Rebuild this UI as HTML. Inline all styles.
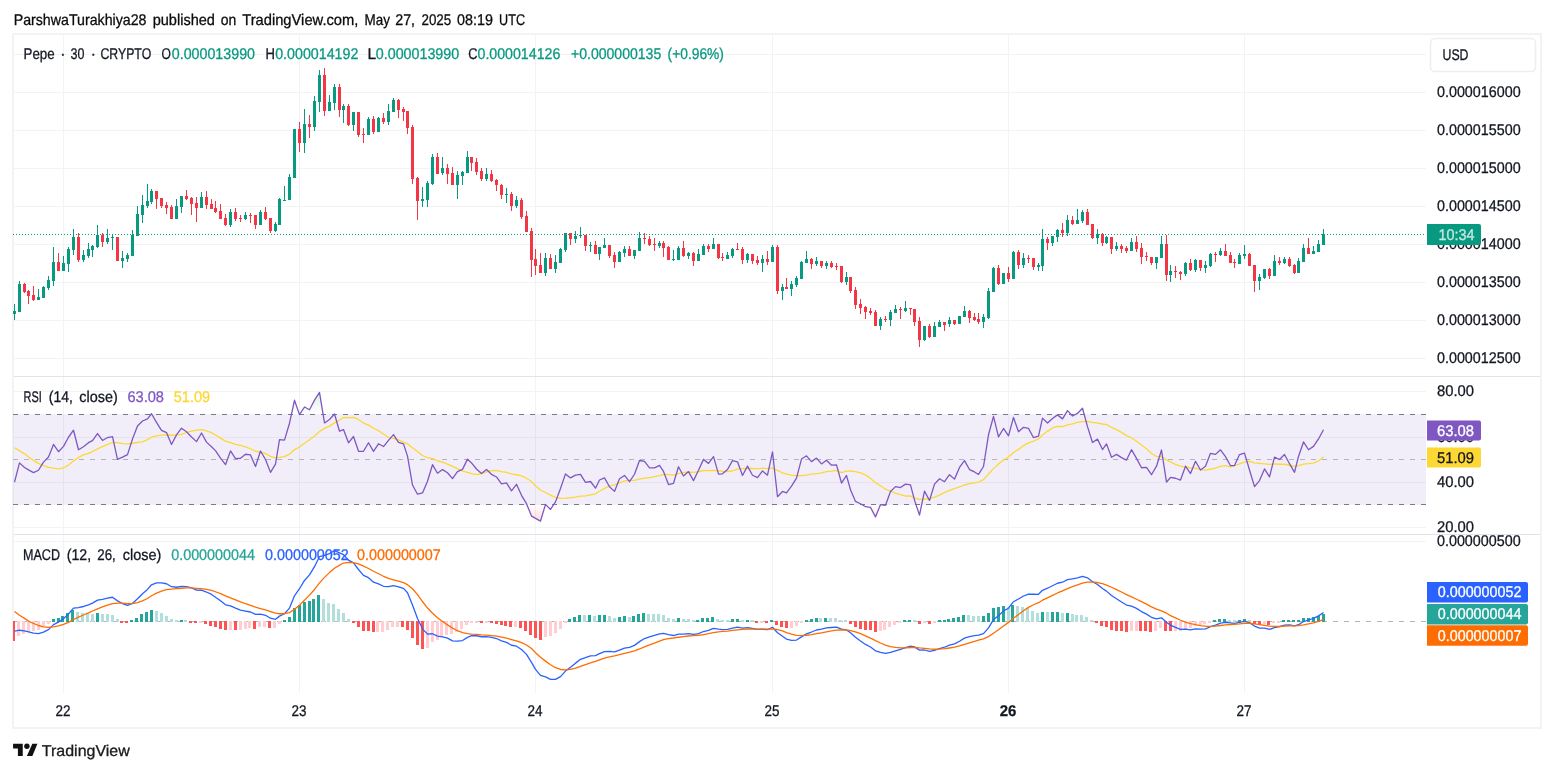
<!DOCTYPE html>
<html><head><meta charset="utf-8"><title>Pepe chart</title><style>html,body{margin:0;padding:0;background:#fff}body{width:1554px;height:772px;overflow:hidden;font-family:"Liberation Sans",sans-serif}svg{display:block}</style></head><body>
<svg width="1554" height="772" viewBox="0 0 1554 772" font-family="Liberation Sans, sans-serif" shape-rendering="crispEdges">
<rect width="1554" height="772" fill="#fff"/>
<rect x="63" y="35" width="1" height="658" fill="#f2f3f4"/>
<rect x="299" y="35" width="1" height="658" fill="#f2f3f4"/>
<rect x="535" y="35" width="1" height="658" fill="#f2f3f4"/>
<rect x="772" y="35" width="1" height="658" fill="#f2f3f4"/>
<rect x="1008" y="35" width="1" height="658" fill="#f2f3f4"/>
<rect x="1244" y="35" width="1" height="658" fill="#f2f3f4"/>
<rect x="13" y="53.90" width="1413" height="1" fill="#f2f3f4"/>
<rect x="13" y="91.91" width="1413" height="1" fill="#f2f3f4"/>
<rect x="13" y="129.92" width="1413" height="1" fill="#f2f3f4"/>
<rect x="13" y="167.93" width="1413" height="1" fill="#f2f3f4"/>
<rect x="13" y="205.94" width="1413" height="1" fill="#f2f3f4"/>
<rect x="13" y="243.95" width="1413" height="1" fill="#f2f3f4"/>
<rect x="13" y="281.96" width="1413" height="1" fill="#f2f3f4"/>
<rect x="13" y="319.97" width="1413" height="1" fill="#f2f3f4"/>
<rect x="13" y="357.98" width="1413" height="1" fill="#f2f3f4"/>
<rect x="13" y="391.00" width="1413" height="1" fill="#f2f3f4"/>
<rect x="13" y="437.00" width="1413" height="1" fill="#f2f3f4"/>
<rect x="13" y="482.00" width="1413" height="1" fill="#f2f3f4"/>
<rect x="13" y="527.00" width="1413" height="1" fill="#f2f3f4"/>
<rect x="13" y="541.00" width="1413" height="1" fill="#f2f3f4"/>
<rect x="13" y="34" width="1528" height="694" fill="none" stroke="#f3f3f3" stroke-width="2"/>
<rect x="14" y="376.00" width="1526" height="1" fill="#e0e3eb"/>
<rect x="14" y="534.00" width="1526" height="1" fill="#e0e3eb"/>
<rect x="13" y="414" width="1413" height="91" fill="#7e57c2" fill-opacity="0.1"/>
<line x1="13" y1="414.50" x2="1426" y2="414.50" stroke="#787b86" stroke-width="1" stroke-dasharray="5 6"/>
<line x1="13" y1="504.50" x2="1426" y2="504.50" stroke="#787b86" stroke-width="1" stroke-dasharray="5 6"/>
<line x1="13" y1="459.50" x2="1426" y2="459.50" stroke="#b2b5be" stroke-width="1" stroke-dasharray="5 6"/>
<line x1="13" y1="621.50" x2="1426" y2="621.50" stroke="#b2b5be" stroke-width="1" stroke-dasharray="5 6"/>
<rect x="14" y="304" width="1" height="16" fill="#089981"/>
<rect x="13" y="311" width="3" height="3" fill="#089981"/>
<rect x="19" y="281" width="1" height="31" fill="#089981"/>
<rect x="18" y="284" width="3" height="28" fill="#089981"/>
<rect x="24" y="283" width="1" height="10" fill="#f23645"/>
<rect x="23" y="284" width="3" height="8" fill="#f23645"/>
<rect x="28" y="290" width="1" height="14" fill="#f23645"/>
<rect x="27" y="291" width="3" height="5" fill="#f23645"/>
<rect x="33" y="286" width="1" height="15" fill="#f23645"/>
<rect x="32" y="295" width="3" height="5" fill="#f23645"/>
<rect x="38" y="289" width="1" height="11" fill="#089981"/>
<rect x="37" y="297" width="3" height="3" fill="#089981"/>
<rect x="43" y="286" width="1" height="12" fill="#089981"/>
<rect x="42" y="287" width="3" height="11" fill="#089981"/>
<rect x="48" y="276" width="1" height="14" fill="#089981"/>
<rect x="47" y="280" width="3" height="8" fill="#089981"/>
<rect x="53" y="247" width="1" height="39" fill="#089981"/>
<rect x="52" y="262" width="3" height="19" fill="#089981"/>
<rect x="58" y="253" width="1" height="18" fill="#f23645"/>
<rect x="57" y="262" width="3" height="9" fill="#f23645"/>
<rect x="63" y="256" width="1" height="15" fill="#089981"/>
<rect x="62" y="263" width="3" height="8" fill="#089981"/>
<rect x="68" y="247" width="1" height="25" fill="#089981"/>
<rect x="67" y="249" width="3" height="15" fill="#089981"/>
<rect x="73" y="229" width="1" height="26" fill="#089981"/>
<rect x="72" y="237" width="3" height="13" fill="#089981"/>
<rect x="78" y="233" width="1" height="29" fill="#f23645"/>
<rect x="77" y="237" width="3" height="23" fill="#f23645"/>
<rect x="83" y="250" width="1" height="12" fill="#089981"/>
<rect x="82" y="255" width="3" height="5" fill="#089981"/>
<rect x="88" y="243" width="1" height="15" fill="#089981"/>
<rect x="87" y="249" width="3" height="7" fill="#089981"/>
<rect x="92" y="245" width="1" height="12" fill="#089981"/>
<rect x="91" y="246" width="3" height="4" fill="#089981"/>
<rect x="97" y="225" width="1" height="23" fill="#089981"/>
<rect x="96" y="235" width="3" height="12" fill="#089981"/>
<rect x="102" y="233" width="1" height="14" fill="#f23645"/>
<rect x="101" y="235" width="3" height="7" fill="#f23645"/>
<rect x="107" y="229" width="1" height="15" fill="#089981"/>
<rect x="106" y="238" width="3" height="4" fill="#089981"/>
<rect x="112" y="234" width="1" height="16" fill="#089981"/>
<rect x="111" y="237" width="3" height="1" fill="#089981"/>
<rect x="117" y="237" width="1" height="24" fill="#f23645"/>
<rect x="116" y="237" width="3" height="24" fill="#f23645"/>
<rect x="122" y="251" width="1" height="17" fill="#089981"/>
<rect x="121" y="258" width="3" height="3" fill="#089981"/>
<rect x="127" y="253" width="1" height="9" fill="#089981"/>
<rect x="126" y="255" width="3" height="4" fill="#089981"/>
<rect x="132" y="230" width="1" height="26" fill="#089981"/>
<rect x="131" y="235" width="3" height="21" fill="#089981"/>
<rect x="137" y="206" width="1" height="30" fill="#089981"/>
<rect x="136" y="214" width="3" height="22" fill="#089981"/>
<rect x="142" y="195" width="1" height="28" fill="#089981"/>
<rect x="141" y="205" width="3" height="10" fill="#089981"/>
<rect x="147" y="184" width="1" height="24" fill="#089981"/>
<rect x="146" y="201" width="3" height="5" fill="#089981"/>
<rect x="151" y="189" width="1" height="15" fill="#089981"/>
<rect x="150" y="191" width="3" height="11" fill="#089981"/>
<rect x="156" y="191" width="1" height="18" fill="#f23645"/>
<rect x="155" y="191" width="3" height="8" fill="#f23645"/>
<rect x="161" y="198" width="1" height="10" fill="#f23645"/>
<rect x="160" y="198" width="3" height="8" fill="#f23645"/>
<rect x="166" y="202" width="1" height="12" fill="#f23645"/>
<rect x="165" y="205" width="3" height="3" fill="#f23645"/>
<rect x="171" y="205" width="1" height="14" fill="#f23645"/>
<rect x="170" y="207" width="3" height="12" fill="#f23645"/>
<rect x="176" y="199" width="1" height="20" fill="#089981"/>
<rect x="175" y="206" width="3" height="13" fill="#089981"/>
<rect x="181" y="196" width="1" height="17" fill="#089981"/>
<rect x="180" y="196" width="3" height="11" fill="#089981"/>
<rect x="186" y="190" width="1" height="10" fill="#f23645"/>
<rect x="185" y="196" width="3" height="3" fill="#f23645"/>
<rect x="191" y="197" width="1" height="18" fill="#f23645"/>
<rect x="190" y="198" width="3" height="6" fill="#f23645"/>
<rect x="196" y="197" width="1" height="25" fill="#f23645"/>
<rect x="195" y="203" width="3" height="5" fill="#f23645"/>
<rect x="201" y="192" width="1" height="16" fill="#089981"/>
<rect x="200" y="197" width="3" height="11" fill="#089981"/>
<rect x="206" y="191" width="1" height="18" fill="#f23645"/>
<rect x="205" y="197" width="3" height="8" fill="#f23645"/>
<rect x="211" y="199" width="1" height="10" fill="#f23645"/>
<rect x="210" y="204" width="3" height="5" fill="#f23645"/>
<rect x="215" y="201" width="1" height="12" fill="#f23645"/>
<rect x="214" y="208" width="3" height="4" fill="#f23645"/>
<rect x="220" y="204" width="1" height="15" fill="#f23645"/>
<rect x="219" y="211" width="3" height="8" fill="#f23645"/>
<rect x="225" y="214" width="1" height="12" fill="#f23645"/>
<rect x="224" y="218" width="3" height="7" fill="#f23645"/>
<rect x="230" y="209" width="1" height="18" fill="#089981"/>
<rect x="229" y="212" width="3" height="13" fill="#089981"/>
<rect x="235" y="208" width="1" height="13" fill="#f23645"/>
<rect x="234" y="212" width="3" height="7" fill="#f23645"/>
<rect x="240" y="215" width="1" height="7" fill="#f23645"/>
<rect x="239" y="218" width="3" height="1" fill="#f23645"/>
<rect x="245" y="212" width="1" height="8" fill="#089981"/>
<rect x="244" y="215" width="3" height="4" fill="#089981"/>
<rect x="250" y="213" width="1" height="10" fill="#f23645"/>
<rect x="249" y="215" width="3" height="1" fill="#f23645"/>
<rect x="255" y="215" width="1" height="14" fill="#f23645"/>
<rect x="254" y="215" width="3" height="10" fill="#f23645"/>
<rect x="260" y="210" width="1" height="15" fill="#089981"/>
<rect x="259" y="212" width="3" height="13" fill="#089981"/>
<rect x="265" y="207" width="1" height="13" fill="#f23645"/>
<rect x="264" y="212" width="3" height="7" fill="#f23645"/>
<rect x="270" y="218" width="1" height="15" fill="#f23645"/>
<rect x="269" y="218" width="3" height="13" fill="#f23645"/>
<rect x="275" y="222" width="1" height="10" fill="#089981"/>
<rect x="274" y="224" width="3" height="7" fill="#089981"/>
<rect x="279" y="198" width="1" height="27" fill="#089981"/>
<rect x="278" y="199" width="3" height="26" fill="#089981"/>
<rect x="284" y="186" width="1" height="15" fill="#089981"/>
<rect x="283" y="200" width="3" height="1" fill="#089981"/>
<rect x="289" y="174" width="1" height="26" fill="#089981"/>
<rect x="288" y="177" width="3" height="23" fill="#089981"/>
<rect x="294" y="129" width="1" height="49" fill="#089981"/>
<rect x="293" y="129" width="3" height="49" fill="#089981"/>
<rect x="299" y="122" width="1" height="30" fill="#f23645"/>
<rect x="298" y="129" width="3" height="14" fill="#f23645"/>
<rect x="304" y="109" width="1" height="44" fill="#089981"/>
<rect x="303" y="124" width="3" height="19" fill="#089981"/>
<rect x="309" y="115" width="1" height="23" fill="#f23645"/>
<rect x="308" y="124" width="3" height="3" fill="#f23645"/>
<rect x="314" y="96" width="1" height="35" fill="#089981"/>
<rect x="313" y="101" width="3" height="26" fill="#089981"/>
<rect x="319" y="70" width="1" height="42" fill="#089981"/>
<rect x="318" y="75" width="3" height="27" fill="#089981"/>
<rect x="324" y="68" width="1" height="48" fill="#f23645"/>
<rect x="323" y="75" width="3" height="36" fill="#f23645"/>
<rect x="329" y="95" width="1" height="16" fill="#089981"/>
<rect x="328" y="102" width="3" height="9" fill="#089981"/>
<rect x="334" y="84" width="1" height="26" fill="#089981"/>
<rect x="333" y="87" width="3" height="16" fill="#089981"/>
<rect x="339" y="84" width="1" height="33" fill="#f23645"/>
<rect x="338" y="87" width="3" height="23" fill="#f23645"/>
<rect x="343" y="104" width="1" height="19" fill="#089981"/>
<rect x="342" y="106" width="3" height="4" fill="#089981"/>
<rect x="348" y="104" width="1" height="22" fill="#f23645"/>
<rect x="347" y="106" width="3" height="19" fill="#f23645"/>
<rect x="353" y="112" width="1" height="19" fill="#089981"/>
<rect x="352" y="112" width="3" height="13" fill="#089981"/>
<rect x="358" y="112" width="1" height="25" fill="#f23645"/>
<rect x="357" y="112" width="3" height="23" fill="#f23645"/>
<rect x="363" y="128" width="1" height="15" fill="#f23645"/>
<rect x="362" y="134" width="3" height="1" fill="#f23645"/>
<rect x="368" y="117" width="1" height="18" fill="#089981"/>
<rect x="367" y="119" width="3" height="16" fill="#089981"/>
<rect x="373" y="116" width="1" height="18" fill="#f23645"/>
<rect x="372" y="119" width="3" height="13" fill="#f23645"/>
<rect x="378" y="117" width="1" height="15" fill="#089981"/>
<rect x="377" y="118" width="3" height="14" fill="#089981"/>
<rect x="383" y="113" width="1" height="11" fill="#f23645"/>
<rect x="382" y="118" width="3" height="4" fill="#f23645"/>
<rect x="388" y="104" width="1" height="21" fill="#089981"/>
<rect x="387" y="111" width="3" height="11" fill="#089981"/>
<rect x="393" y="98" width="1" height="14" fill="#089981"/>
<rect x="392" y="100" width="3" height="12" fill="#089981"/>
<rect x="398" y="99" width="1" height="19" fill="#f23645"/>
<rect x="397" y="100" width="3" height="10" fill="#f23645"/>
<rect x="403" y="107" width="1" height="14" fill="#f23645"/>
<rect x="402" y="109" width="3" height="3" fill="#f23645"/>
<rect x="407" y="111" width="1" height="23" fill="#f23645"/>
<rect x="406" y="111" width="3" height="17" fill="#f23645"/>
<rect x="412" y="125" width="1" height="59" fill="#f23645"/>
<rect x="411" y="127" width="3" height="52" fill="#f23645"/>
<rect x="417" y="177" width="1" height="43" fill="#f23645"/>
<rect x="416" y="178" width="3" height="23" fill="#f23645"/>
<rect x="422" y="187" width="1" height="20" fill="#089981"/>
<rect x="421" y="199" width="3" height="2" fill="#089981"/>
<rect x="427" y="181" width="1" height="26" fill="#089981"/>
<rect x="426" y="183" width="3" height="17" fill="#089981"/>
<rect x="432" y="154" width="1" height="31" fill="#089981"/>
<rect x="431" y="157" width="3" height="27" fill="#089981"/>
<rect x="437" y="153" width="1" height="21" fill="#f23645"/>
<rect x="436" y="157" width="3" height="17" fill="#f23645"/>
<rect x="442" y="157" width="1" height="18" fill="#089981"/>
<rect x="441" y="168" width="3" height="5" fill="#089981"/>
<rect x="447" y="164" width="1" height="20" fill="#f23645"/>
<rect x="446" y="168" width="3" height="6" fill="#f23645"/>
<rect x="452" y="167" width="1" height="18" fill="#f23645"/>
<rect x="451" y="173" width="3" height="12" fill="#f23645"/>
<rect x="457" y="171" width="1" height="28" fill="#089981"/>
<rect x="456" y="175" width="3" height="10" fill="#089981"/>
<rect x="462" y="171" width="1" height="14" fill="#089981"/>
<rect x="461" y="172" width="3" height="4" fill="#089981"/>
<rect x="467" y="151" width="1" height="22" fill="#089981"/>
<rect x="466" y="157" width="3" height="16" fill="#089981"/>
<rect x="471" y="157" width="1" height="14" fill="#f23645"/>
<rect x="470" y="157" width="3" height="6" fill="#f23645"/>
<rect x="476" y="158" width="1" height="17" fill="#f23645"/>
<rect x="475" y="162" width="3" height="10" fill="#f23645"/>
<rect x="481" y="168" width="1" height="13" fill="#f23645"/>
<rect x="480" y="171" width="3" height="8" fill="#f23645"/>
<rect x="486" y="168" width="1" height="13" fill="#089981"/>
<rect x="485" y="174" width="3" height="5" fill="#089981"/>
<rect x="491" y="170" width="1" height="12" fill="#f23645"/>
<rect x="490" y="174" width="3" height="7" fill="#f23645"/>
<rect x="496" y="179" width="1" height="12" fill="#f23645"/>
<rect x="495" y="180" width="3" height="5" fill="#f23645"/>
<rect x="501" y="184" width="1" height="15" fill="#f23645"/>
<rect x="500" y="185" width="3" height="10" fill="#f23645"/>
<rect x="506" y="188" width="1" height="15" fill="#089981"/>
<rect x="505" y="194" width="3" height="1" fill="#089981"/>
<rect x="511" y="192" width="1" height="19" fill="#f23645"/>
<rect x="510" y="194" width="3" height="12" fill="#f23645"/>
<rect x="516" y="196" width="1" height="12" fill="#089981"/>
<rect x="515" y="200" width="3" height="6" fill="#089981"/>
<rect x="521" y="198" width="1" height="21" fill="#f23645"/>
<rect x="520" y="200" width="3" height="17" fill="#f23645"/>
<rect x="526" y="211" width="1" height="21" fill="#f23645"/>
<rect x="525" y="216" width="3" height="16" fill="#f23645"/>
<rect x="531" y="228" width="1" height="49" fill="#f23645"/>
<rect x="530" y="231" width="3" height="29" fill="#f23645"/>
<rect x="535" y="249" width="1" height="26" fill="#f23645"/>
<rect x="534" y="259" width="3" height="7" fill="#f23645"/>
<rect x="540" y="253" width="1" height="20" fill="#f23645"/>
<rect x="539" y="265" width="3" height="8" fill="#f23645"/>
<rect x="545" y="253" width="1" height="23" fill="#089981"/>
<rect x="544" y="258" width="3" height="15" fill="#089981"/>
<rect x="550" y="254" width="1" height="15" fill="#f23645"/>
<rect x="549" y="258" width="3" height="11" fill="#f23645"/>
<rect x="555" y="255" width="1" height="18" fill="#089981"/>
<rect x="554" y="262" width="3" height="7" fill="#089981"/>
<rect x="560" y="248" width="1" height="15" fill="#089981"/>
<rect x="559" y="249" width="3" height="14" fill="#089981"/>
<rect x="565" y="233" width="1" height="19" fill="#089981"/>
<rect x="564" y="233" width="3" height="17" fill="#089981"/>
<rect x="570" y="233" width="1" height="12" fill="#f23645"/>
<rect x="569" y="233" width="3" height="6" fill="#f23645"/>
<rect x="575" y="231" width="1" height="12" fill="#089981"/>
<rect x="574" y="236" width="3" height="3" fill="#089981"/>
<rect x="580" y="227" width="1" height="11" fill="#089981"/>
<rect x="579" y="235" width="3" height="1" fill="#089981"/>
<rect x="585" y="235" width="1" height="16" fill="#f23645"/>
<rect x="584" y="235" width="3" height="11" fill="#f23645"/>
<rect x="590" y="242" width="1" height="10" fill="#089981"/>
<rect x="589" y="245" width="3" height="1" fill="#089981"/>
<rect x="595" y="241" width="1" height="13" fill="#f23645"/>
<rect x="594" y="245" width="3" height="9" fill="#f23645"/>
<rect x="599" y="247" width="1" height="13" fill="#089981"/>
<rect x="598" y="247" width="3" height="7" fill="#089981"/>
<rect x="604" y="238" width="1" height="10" fill="#089981"/>
<rect x="603" y="245" width="3" height="3" fill="#089981"/>
<rect x="609" y="245" width="1" height="13" fill="#f23645"/>
<rect x="608" y="245" width="3" height="11" fill="#f23645"/>
<rect x="614" y="252" width="1" height="16" fill="#f23645"/>
<rect x="613" y="255" width="3" height="7" fill="#f23645"/>
<rect x="619" y="251" width="1" height="11" fill="#089981"/>
<rect x="618" y="252" width="3" height="10" fill="#089981"/>
<rect x="624" y="246" width="1" height="11" fill="#089981"/>
<rect x="623" y="249" width="3" height="4" fill="#089981"/>
<rect x="629" y="246" width="1" height="10" fill="#f23645"/>
<rect x="628" y="249" width="3" height="7" fill="#f23645"/>
<rect x="634" y="250" width="1" height="9" fill="#089981"/>
<rect x="633" y="250" width="3" height="6" fill="#089981"/>
<rect x="639" y="232" width="1" height="19" fill="#089981"/>
<rect x="638" y="238" width="3" height="13" fill="#089981"/>
<rect x="644" y="233" width="1" height="11" fill="#f23645"/>
<rect x="643" y="238" width="3" height="1" fill="#f23645"/>
<rect x="649" y="236" width="1" height="10" fill="#f23645"/>
<rect x="648" y="239" width="3" height="6" fill="#f23645"/>
<rect x="654" y="238" width="1" height="13" fill="#f23645"/>
<rect x="653" y="244" width="3" height="1" fill="#f23645"/>
<rect x="659" y="241" width="1" height="7" fill="#089981"/>
<rect x="658" y="243" width="3" height="3" fill="#089981"/>
<rect x="663" y="241" width="1" height="16" fill="#f23645"/>
<rect x="662" y="243" width="3" height="5" fill="#f23645"/>
<rect x="668" y="246" width="1" height="14" fill="#f23645"/>
<rect x="667" y="247" width="3" height="13" fill="#f23645"/>
<rect x="673" y="250" width="1" height="11" fill="#089981"/>
<rect x="672" y="259" width="3" height="1" fill="#089981"/>
<rect x="678" y="246" width="1" height="14" fill="#089981"/>
<rect x="677" y="248" width="3" height="12" fill="#089981"/>
<rect x="683" y="241" width="1" height="16" fill="#f23645"/>
<rect x="682" y="248" width="3" height="8" fill="#f23645"/>
<rect x="688" y="252" width="1" height="7" fill="#089981"/>
<rect x="687" y="253" width="3" height="3" fill="#089981"/>
<rect x="693" y="252" width="1" height="14" fill="#f23645"/>
<rect x="692" y="253" width="3" height="8" fill="#f23645"/>
<rect x="698" y="249" width="1" height="12" fill="#089981"/>
<rect x="697" y="254" width="3" height="7" fill="#089981"/>
<rect x="703" y="244" width="1" height="11" fill="#089981"/>
<rect x="702" y="246" width="3" height="9" fill="#089981"/>
<rect x="708" y="244" width="1" height="8" fill="#f23645"/>
<rect x="707" y="246" width="3" height="3" fill="#f23645"/>
<rect x="713" y="238" width="1" height="11" fill="#089981"/>
<rect x="712" y="244" width="3" height="5" fill="#089981"/>
<rect x="718" y="244" width="1" height="15" fill="#f23645"/>
<rect x="717" y="244" width="3" height="14" fill="#f23645"/>
<rect x="722" y="253" width="1" height="8" fill="#f23645"/>
<rect x="721" y="257" width="3" height="1" fill="#f23645"/>
<rect x="727" y="252" width="1" height="7" fill="#089981"/>
<rect x="726" y="255" width="3" height="4" fill="#089981"/>
<rect x="732" y="248" width="1" height="10" fill="#089981"/>
<rect x="731" y="249" width="3" height="7" fill="#089981"/>
<rect x="737" y="243" width="1" height="7" fill="#f23645"/>
<rect x="736" y="249" width="3" height="1" fill="#f23645"/>
<rect x="742" y="247" width="1" height="17" fill="#f23645"/>
<rect x="741" y="249" width="3" height="11" fill="#f23645"/>
<rect x="747" y="253" width="1" height="10" fill="#089981"/>
<rect x="746" y="254" width="3" height="6" fill="#089981"/>
<rect x="752" y="254" width="1" height="10" fill="#f23645"/>
<rect x="751" y="254" width="3" height="7" fill="#f23645"/>
<rect x="757" y="256" width="1" height="9" fill="#f23645"/>
<rect x="756" y="260" width="3" height="3" fill="#f23645"/>
<rect x="762" y="255" width="1" height="17" fill="#089981"/>
<rect x="761" y="259" width="3" height="4" fill="#089981"/>
<rect x="767" y="251" width="1" height="14" fill="#f23645"/>
<rect x="766" y="259" width="3" height="3" fill="#f23645"/>
<rect x="772" y="245" width="1" height="17" fill="#089981"/>
<rect x="771" y="247" width="3" height="15" fill="#089981"/>
<rect x="777" y="245" width="1" height="49" fill="#f23645"/>
<rect x="776" y="247" width="3" height="44" fill="#f23645"/>
<rect x="782" y="284" width="1" height="16" fill="#089981"/>
<rect x="781" y="287" width="3" height="4" fill="#089981"/>
<rect x="786" y="278" width="1" height="11" fill="#f23645"/>
<rect x="785" y="287" width="3" height="2" fill="#f23645"/>
<rect x="791" y="281" width="1" height="15" fill="#089981"/>
<rect x="790" y="284" width="3" height="5" fill="#089981"/>
<rect x="796" y="276" width="1" height="11" fill="#089981"/>
<rect x="795" y="278" width="3" height="7" fill="#089981"/>
<rect x="801" y="261" width="1" height="18" fill="#089981"/>
<rect x="800" y="262" width="3" height="17" fill="#089981"/>
<rect x="806" y="251" width="1" height="12" fill="#089981"/>
<rect x="805" y="259" width="3" height="4" fill="#089981"/>
<rect x="811" y="258" width="1" height="11" fill="#f23645"/>
<rect x="810" y="259" width="3" height="5" fill="#f23645"/>
<rect x="816" y="257" width="1" height="9" fill="#089981"/>
<rect x="815" y="261" width="3" height="3" fill="#089981"/>
<rect x="821" y="261" width="1" height="7" fill="#f23645"/>
<rect x="820" y="261" width="3" height="5" fill="#f23645"/>
<rect x="826" y="261" width="1" height="8" fill="#089981"/>
<rect x="825" y="263" width="3" height="3" fill="#089981"/>
<rect x="831" y="261" width="1" height="7" fill="#f23645"/>
<rect x="830" y="263" width="3" height="4" fill="#f23645"/>
<rect x="836" y="263" width="1" height="7" fill="#f23645"/>
<rect x="835" y="266" width="3" height="1" fill="#f23645"/>
<rect x="841" y="266" width="1" height="17" fill="#f23645"/>
<rect x="840" y="266" width="3" height="16" fill="#f23645"/>
<rect x="846" y="272" width="1" height="13" fill="#089981"/>
<rect x="845" y="277" width="3" height="5" fill="#089981"/>
<rect x="850" y="277" width="1" height="16" fill="#f23645"/>
<rect x="849" y="277" width="3" height="14" fill="#f23645"/>
<rect x="855" y="287" width="1" height="22" fill="#f23645"/>
<rect x="854" y="290" width="3" height="15" fill="#f23645"/>
<rect x="860" y="299" width="1" height="15" fill="#f23645"/>
<rect x="859" y="304" width="3" height="4" fill="#f23645"/>
<rect x="865" y="306" width="1" height="13" fill="#f23645"/>
<rect x="864" y="307" width="3" height="5" fill="#f23645"/>
<rect x="870" y="308" width="1" height="7" fill="#f23645"/>
<rect x="869" y="311" width="3" height="2" fill="#f23645"/>
<rect x="875" y="310" width="1" height="16" fill="#f23645"/>
<rect x="874" y="312" width="3" height="14" fill="#f23645"/>
<rect x="880" y="317" width="1" height="13" fill="#089981"/>
<rect x="879" y="319" width="3" height="7" fill="#089981"/>
<rect x="885" y="316" width="1" height="6" fill="#f23645"/>
<rect x="884" y="319" width="3" height="1" fill="#f23645"/>
<rect x="890" y="310" width="1" height="16" fill="#089981"/>
<rect x="889" y="312" width="3" height="8" fill="#089981"/>
<rect x="895" y="305" width="1" height="8" fill="#089981"/>
<rect x="894" y="309" width="3" height="4" fill="#089981"/>
<rect x="900" y="307" width="1" height="12" fill="#f23645"/>
<rect x="899" y="309" width="3" height="1" fill="#f23645"/>
<rect x="905" y="301" width="1" height="11" fill="#089981"/>
<rect x="904" y="308" width="3" height="3" fill="#089981"/>
<rect x="910" y="308" width="1" height="7" fill="#f23645"/>
<rect x="909" y="308" width="3" height="1" fill="#f23645"/>
<rect x="914" y="309" width="1" height="17" fill="#f23645"/>
<rect x="913" y="309" width="3" height="13" fill="#f23645"/>
<rect x="919" y="317" width="1" height="30" fill="#f23645"/>
<rect x="918" y="321" width="3" height="19" fill="#f23645"/>
<rect x="924" y="326" width="1" height="15" fill="#089981"/>
<rect x="923" y="326" width="3" height="14" fill="#089981"/>
<rect x="929" y="324" width="1" height="14" fill="#f23645"/>
<rect x="928" y="326" width="3" height="11" fill="#f23645"/>
<rect x="934" y="322" width="1" height="15" fill="#089981"/>
<rect x="933" y="326" width="3" height="11" fill="#089981"/>
<rect x="939" y="320" width="1" height="7" fill="#089981"/>
<rect x="938" y="322" width="3" height="5" fill="#089981"/>
<rect x="944" y="322" width="1" height="9" fill="#f23645"/>
<rect x="943" y="322" width="3" height="3" fill="#f23645"/>
<rect x="949" y="317" width="1" height="10" fill="#089981"/>
<rect x="948" y="320" width="3" height="4" fill="#089981"/>
<rect x="954" y="320" width="1" height="5" fill="#f23645"/>
<rect x="953" y="320" width="3" height="4" fill="#f23645"/>
<rect x="959" y="316" width="1" height="8" fill="#089981"/>
<rect x="958" y="316" width="3" height="8" fill="#089981"/>
<rect x="964" y="306" width="1" height="11" fill="#089981"/>
<rect x="963" y="311" width="3" height="6" fill="#089981"/>
<rect x="969" y="310" width="1" height="13" fill="#f23645"/>
<rect x="968" y="311" width="3" height="7" fill="#f23645"/>
<rect x="974" y="313" width="1" height="8" fill="#f23645"/>
<rect x="973" y="317" width="3" height="3" fill="#f23645"/>
<rect x="978" y="313" width="1" height="11" fill="#f23645"/>
<rect x="977" y="319" width="3" height="3" fill="#f23645"/>
<rect x="983" y="314" width="1" height="14" fill="#089981"/>
<rect x="982" y="317" width="3" height="5" fill="#089981"/>
<rect x="988" y="288" width="1" height="31" fill="#089981"/>
<rect x="987" y="291" width="3" height="27" fill="#089981"/>
<rect x="993" y="267" width="1" height="25" fill="#089981"/>
<rect x="992" y="268" width="3" height="24" fill="#089981"/>
<rect x="998" y="265" width="1" height="20" fill="#f23645"/>
<rect x="997" y="268" width="3" height="16" fill="#f23645"/>
<rect x="1003" y="273" width="1" height="11" fill="#089981"/>
<rect x="1002" y="273" width="3" height="11" fill="#089981"/>
<rect x="1008" y="267" width="1" height="15" fill="#f23645"/>
<rect x="1007" y="273" width="3" height="6" fill="#f23645"/>
<rect x="1013" y="251" width="1" height="28" fill="#089981"/>
<rect x="1012" y="252" width="3" height="27" fill="#089981"/>
<rect x="1018" y="250" width="1" height="19" fill="#f23645"/>
<rect x="1017" y="252" width="3" height="13" fill="#f23645"/>
<rect x="1023" y="253" width="1" height="15" fill="#089981"/>
<rect x="1022" y="258" width="3" height="7" fill="#089981"/>
<rect x="1028" y="255" width="1" height="8" fill="#f23645"/>
<rect x="1027" y="258" width="3" height="1" fill="#f23645"/>
<rect x="1033" y="258" width="1" height="12" fill="#f23645"/>
<rect x="1032" y="258" width="3" height="9" fill="#f23645"/>
<rect x="1038" y="263" width="1" height="8" fill="#089981"/>
<rect x="1037" y="265" width="3" height="2" fill="#089981"/>
<rect x="1042" y="229" width="1" height="42" fill="#089981"/>
<rect x="1041" y="239" width="3" height="27" fill="#089981"/>
<rect x="1047" y="237" width="1" height="13" fill="#f23645"/>
<rect x="1046" y="239" width="3" height="4" fill="#f23645"/>
<rect x="1052" y="236" width="1" height="10" fill="#089981"/>
<rect x="1051" y="236" width="3" height="7" fill="#089981"/>
<rect x="1057" y="229" width="1" height="13" fill="#089981"/>
<rect x="1056" y="230" width="3" height="7" fill="#089981"/>
<rect x="1062" y="223" width="1" height="14" fill="#f23645"/>
<rect x="1061" y="230" width="3" height="3" fill="#f23645"/>
<rect x="1067" y="215" width="1" height="21" fill="#089981"/>
<rect x="1066" y="220" width="3" height="13" fill="#089981"/>
<rect x="1072" y="216" width="1" height="9" fill="#f23645"/>
<rect x="1071" y="220" width="3" height="4" fill="#f23645"/>
<rect x="1077" y="209" width="1" height="15" fill="#089981"/>
<rect x="1076" y="220" width="3" height="4" fill="#089981"/>
<rect x="1082" y="210" width="1" height="13" fill="#089981"/>
<rect x="1081" y="212" width="3" height="9" fill="#089981"/>
<rect x="1087" y="209" width="1" height="16" fill="#f23645"/>
<rect x="1086" y="212" width="3" height="13" fill="#f23645"/>
<rect x="1092" y="224" width="1" height="15" fill="#f23645"/>
<rect x="1091" y="224" width="3" height="14" fill="#f23645"/>
<rect x="1097" y="229" width="1" height="15" fill="#089981"/>
<rect x="1096" y="234" width="3" height="4" fill="#089981"/>
<rect x="1102" y="233" width="1" height="13" fill="#f23645"/>
<rect x="1101" y="234" width="3" height="9" fill="#f23645"/>
<rect x="1106" y="236" width="1" height="8" fill="#089981"/>
<rect x="1105" y="237" width="3" height="6" fill="#089981"/>
<rect x="1111" y="237" width="1" height="17" fill="#f23645"/>
<rect x="1110" y="237" width="3" height="12" fill="#f23645"/>
<rect x="1116" y="242" width="1" height="9" fill="#089981"/>
<rect x="1115" y="246" width="3" height="3" fill="#089981"/>
<rect x="1121" y="244" width="1" height="9" fill="#f23645"/>
<rect x="1120" y="246" width="3" height="3" fill="#f23645"/>
<rect x="1126" y="246" width="1" height="7" fill="#f23645"/>
<rect x="1125" y="248" width="3" height="3" fill="#f23645"/>
<rect x="1131" y="238" width="1" height="13" fill="#089981"/>
<rect x="1130" y="242" width="3" height="9" fill="#089981"/>
<rect x="1136" y="236" width="1" height="16" fill="#f23645"/>
<rect x="1135" y="242" width="3" height="7" fill="#f23645"/>
<rect x="1141" y="243" width="1" height="21" fill="#f23645"/>
<rect x="1140" y="248" width="3" height="9" fill="#f23645"/>
<rect x="1146" y="252" width="1" height="9" fill="#f23645"/>
<rect x="1145" y="256" width="3" height="1" fill="#f23645"/>
<rect x="1151" y="257" width="1" height="8" fill="#f23645"/>
<rect x="1150" y="257" width="3" height="6" fill="#f23645"/>
<rect x="1156" y="257" width="1" height="12" fill="#089981"/>
<rect x="1155" y="257" width="3" height="6" fill="#089981"/>
<rect x="1161" y="236" width="1" height="22" fill="#089981"/>
<rect x="1160" y="244" width="3" height="14" fill="#089981"/>
<rect x="1166" y="235" width="1" height="46" fill="#f23645"/>
<rect x="1165" y="244" width="3" height="31" fill="#f23645"/>
<rect x="1170" y="265" width="1" height="17" fill="#089981"/>
<rect x="1169" y="271" width="3" height="4" fill="#089981"/>
<rect x="1175" y="266" width="1" height="12" fill="#f23645"/>
<rect x="1174" y="271" width="3" height="1" fill="#f23645"/>
<rect x="1180" y="271" width="1" height="9" fill="#f23645"/>
<rect x="1179" y="272" width="3" height="2" fill="#f23645"/>
<rect x="1185" y="262" width="1" height="14" fill="#089981"/>
<rect x="1184" y="263" width="3" height="11" fill="#089981"/>
<rect x="1190" y="259" width="1" height="12" fill="#f23645"/>
<rect x="1189" y="263" width="3" height="7" fill="#f23645"/>
<rect x="1195" y="259" width="1" height="13" fill="#089981"/>
<rect x="1194" y="260" width="3" height="10" fill="#089981"/>
<rect x="1200" y="260" width="1" height="11" fill="#f23645"/>
<rect x="1199" y="260" width="3" height="8" fill="#f23645"/>
<rect x="1205" y="261" width="1" height="12" fill="#089981"/>
<rect x="1204" y="265" width="3" height="3" fill="#089981"/>
<rect x="1210" y="253" width="1" height="14" fill="#089981"/>
<rect x="1209" y="254" width="3" height="12" fill="#089981"/>
<rect x="1215" y="252" width="1" height="10" fill="#f23645"/>
<rect x="1214" y="254" width="3" height="1" fill="#f23645"/>
<rect x="1220" y="248" width="1" height="8" fill="#089981"/>
<rect x="1219" y="251" width="3" height="4" fill="#089981"/>
<rect x="1225" y="244" width="1" height="12" fill="#f23645"/>
<rect x="1224" y="251" width="3" height="5" fill="#f23645"/>
<rect x="1230" y="252" width="1" height="11" fill="#f23645"/>
<rect x="1229" y="255" width="3" height="8" fill="#f23645"/>
<rect x="1234" y="259" width="1" height="9" fill="#f23645"/>
<rect x="1233" y="262" width="3" height="1" fill="#f23645"/>
<rect x="1239" y="253" width="1" height="11" fill="#089981"/>
<rect x="1238" y="255" width="3" height="9" fill="#089981"/>
<rect x="1244" y="245" width="1" height="14" fill="#089981"/>
<rect x="1243" y="254" width="3" height="2" fill="#089981"/>
<rect x="1249" y="253" width="1" height="13" fill="#f23645"/>
<rect x="1248" y="254" width="3" height="12" fill="#f23645"/>
<rect x="1254" y="265" width="1" height="27" fill="#f23645"/>
<rect x="1253" y="265" width="3" height="16" fill="#f23645"/>
<rect x="1259" y="274" width="1" height="16" fill="#089981"/>
<rect x="1258" y="277" width="3" height="4" fill="#089981"/>
<rect x="1264" y="269" width="1" height="10" fill="#089981"/>
<rect x="1263" y="269" width="3" height="9" fill="#089981"/>
<rect x="1269" y="268" width="1" height="11" fill="#f23645"/>
<rect x="1268" y="269" width="3" height="7" fill="#f23645"/>
<rect x="1274" y="255" width="1" height="21" fill="#089981"/>
<rect x="1273" y="261" width="3" height="15" fill="#089981"/>
<rect x="1279" y="257" width="1" height="8" fill="#f23645"/>
<rect x="1278" y="261" width="3" height="2" fill="#f23645"/>
<rect x="1284" y="257" width="1" height="7" fill="#089981"/>
<rect x="1283" y="259" width="3" height="4" fill="#089981"/>
<rect x="1289" y="257" width="1" height="10" fill="#f23645"/>
<rect x="1288" y="259" width="3" height="7" fill="#f23645"/>
<rect x="1294" y="264" width="1" height="10" fill="#f23645"/>
<rect x="1293" y="265" width="3" height="8" fill="#f23645"/>
<rect x="1298" y="258" width="1" height="15" fill="#089981"/>
<rect x="1297" y="261" width="3" height="12" fill="#089981"/>
<rect x="1303" y="244" width="1" height="18" fill="#089981"/>
<rect x="1302" y="248" width="3" height="14" fill="#089981"/>
<rect x="1308" y="238" width="1" height="16" fill="#f23645"/>
<rect x="1307" y="248" width="3" height="6" fill="#f23645"/>
<rect x="1313" y="246" width="1" height="8" fill="#089981"/>
<rect x="1312" y="251" width="3" height="3" fill="#089981"/>
<rect x="1318" y="240" width="1" height="12" fill="#089981"/>
<rect x="1317" y="244" width="3" height="8" fill="#089981"/>
<rect x="1323" y="229" width="1" height="16" fill="#089981"/>
<rect x="1322" y="234" width="3" height="11" fill="#089981"/>
<line x1="13" y1="234.5" x2="1426" y2="234.5" stroke="#089981" stroke-width="1" stroke-dasharray="1 2"/>
<rect x="13" y="621" width="2" height="20" fill="#ff5252"/>
<rect x="17" y="621" width="3" height="15" fill="#ffcdd2"/>
<rect x="22" y="621" width="3" height="13" fill="#ffcdd2"/>
<rect x="27" y="621" width="3" height="11" fill="#ffcdd2"/>
<rect x="32" y="621" width="3" height="10" fill="#ffcdd2"/>
<rect x="37" y="621" width="3" height="9" fill="#ffcdd2"/>
<rect x="42" y="621" width="3" height="6" fill="#ffcdd2"/>
<rect x="47" y="621" width="3" height="3" fill="#ffcdd2"/>
<rect x="52" y="619" width="3" height="3" fill="#26a69a"/>
<rect x="57" y="618" width="3" height="4" fill="#26a69a"/>
<rect x="61" y="616" width="3" height="6" fill="#26a69a"/>
<rect x="66" y="613" width="3" height="9" fill="#26a69a"/>
<rect x="71" y="610" width="3" height="12" fill="#26a69a"/>
<rect x="76" y="612" width="3" height="10" fill="#b2dfdb"/>
<rect x="81" y="613" width="3" height="9" fill="#b2dfdb"/>
<rect x="86" y="613" width="3" height="9" fill="#b2dfdb"/>
<rect x="91" y="614" width="3" height="8" fill="#b2dfdb"/>
<rect x="96" y="613" width="3" height="9" fill="#26a69a"/>
<rect x="101" y="614" width="3" height="8" fill="#b2dfdb"/>
<rect x="106" y="614" width="3" height="8" fill="#b2dfdb"/>
<rect x="111" y="615" width="3" height="7" fill="#b2dfdb"/>
<rect x="116" y="619" width="3" height="3" fill="#b2dfdb"/>
<rect x="120" y="621" width="3" height="2" fill="#ff5252"/>
<rect x="125" y="621" width="3" height="2" fill="#ff5252"/>
<rect x="130" y="620" width="3" height="2" fill="#26a69a"/>
<rect x="135" y="618" width="3" height="4" fill="#26a69a"/>
<rect x="140" y="614" width="3" height="8" fill="#26a69a"/>
<rect x="145" y="612" width="3" height="10" fill="#26a69a"/>
<rect x="150" y="610" width="3" height="12" fill="#26a69a"/>
<rect x="155" y="611" width="3" height="11" fill="#b2dfdb"/>
<rect x="160" y="613" width="3" height="9" fill="#b2dfdb"/>
<rect x="165" y="616" width="3" height="6" fill="#b2dfdb"/>
<rect x="170" y="619" width="3" height="3" fill="#b2dfdb"/>
<rect x="175" y="620" width="3" height="2" fill="#b2dfdb"/>
<rect x="180" y="620" width="3" height="2" fill="#26a69a"/>
<rect x="184" y="620" width="3" height="2" fill="#b2dfdb"/>
<rect x="189" y="621" width="3" height="2" fill="#ff5252"/>
<rect x="194" y="621" width="3" height="2" fill="#ff5252"/>
<rect x="199" y="621" width="3" height="2" fill="#ffcdd2"/>
<rect x="204" y="621" width="3" height="3" fill="#ff5252"/>
<rect x="209" y="621" width="3" height="5" fill="#ff5252"/>
<rect x="214" y="621" width="3" height="6" fill="#ff5252"/>
<rect x="219" y="621" width="3" height="8" fill="#ff5252"/>
<rect x="224" y="621" width="3" height="9" fill="#ff5252"/>
<rect x="229" y="621" width="3" height="9" fill="#ffcdd2"/>
<rect x="234" y="621" width="3" height="9" fill="#ff5252"/>
<rect x="239" y="621" width="3" height="9" fill="#ffcdd2"/>
<rect x="244" y="621" width="3" height="8" fill="#ffcdd2"/>
<rect x="248" y="621" width="3" height="7" fill="#ffcdd2"/>
<rect x="253" y="621" width="3" height="8" fill="#ff5252"/>
<rect x="258" y="621" width="3" height="6" fill="#ffcdd2"/>
<rect x="263" y="621" width="3" height="6" fill="#ffcdd2"/>
<rect x="268" y="621" width="3" height="7" fill="#ff5252"/>
<rect x="273" y="621" width="3" height="7" fill="#ffcdd2"/>
<rect x="278" y="621" width="3" height="3" fill="#ffcdd2"/>
<rect x="283" y="620" width="3" height="2" fill="#26a69a"/>
<rect x="288" y="617" width="3" height="5" fill="#26a69a"/>
<rect x="293" y="608" width="3" height="14" fill="#26a69a"/>
<rect x="298" y="605" width="3" height="17" fill="#26a69a"/>
<rect x="303" y="602" width="3" height="20" fill="#26a69a"/>
<rect x="308" y="601" width="3" height="21" fill="#26a69a"/>
<rect x="312" y="599" width="3" height="23" fill="#26a69a"/>
<rect x="317" y="595" width="3" height="27" fill="#26a69a"/>
<rect x="322" y="599" width="3" height="23" fill="#b2dfdb"/>
<rect x="327" y="603" width="3" height="19" fill="#b2dfdb"/>
<rect x="332" y="604" width="3" height="18" fill="#b2dfdb"/>
<rect x="337" y="609" width="3" height="13" fill="#b2dfdb"/>
<rect x="342" y="613" width="3" height="9" fill="#b2dfdb"/>
<rect x="347" y="619" width="3" height="3" fill="#b2dfdb"/>
<rect x="352" y="621" width="3" height="2" fill="#ff5252"/>
<rect x="357" y="621" width="3" height="6" fill="#ff5252"/>
<rect x="362" y="621" width="3" height="10" fill="#ff5252"/>
<rect x="367" y="621" width="3" height="10" fill="#ff5252"/>
<rect x="372" y="621" width="3" height="11" fill="#ff5252"/>
<rect x="376" y="621" width="3" height="11" fill="#ffcdd2"/>
<rect x="381" y="621" width="3" height="11" fill="#ffcdd2"/>
<rect x="386" y="621" width="3" height="9" fill="#ffcdd2"/>
<rect x="391" y="621" width="3" height="6" fill="#ffcdd2"/>
<rect x="396" y="621" width="3" height="6" fill="#ffcdd2"/>
<rect x="401" y="621" width="3" height="6" fill="#ff5252"/>
<rect x="406" y="621" width="3" height="9" fill="#ff5252"/>
<rect x="411" y="621" width="3" height="17" fill="#ff5252"/>
<rect x="416" y="621" width="3" height="24" fill="#ff5252"/>
<rect x="421" y="621" width="3" height="28" fill="#ff5252"/>
<rect x="426" y="621" width="3" height="27" fill="#ffcdd2"/>
<rect x="431" y="621" width="3" height="21" fill="#ffcdd2"/>
<rect x="436" y="621" width="3" height="19" fill="#ffcdd2"/>
<rect x="440" y="621" width="3" height="16" fill="#ffcdd2"/>
<rect x="445" y="621" width="3" height="14" fill="#ffcdd2"/>
<rect x="450" y="621" width="3" height="13" fill="#ffcdd2"/>
<rect x="455" y="621" width="3" height="11" fill="#ffcdd2"/>
<rect x="460" y="621" width="3" height="8" fill="#ffcdd2"/>
<rect x="465" y="621" width="3" height="4" fill="#ffcdd2"/>
<rect x="470" y="621" width="3" height="2" fill="#ffcdd2"/>
<rect x="475" y="621" width="3" height="2" fill="#ffcdd2"/>
<rect x="480" y="621" width="3" height="2" fill="#ff5252"/>
<rect x="485" y="621" width="3" height="2" fill="#ffcdd2"/>
<rect x="490" y="621" width="3" height="2" fill="#ff5252"/>
<rect x="495" y="621" width="3" height="3" fill="#ff5252"/>
<rect x="500" y="621" width="3" height="4" fill="#ff5252"/>
<rect x="504" y="621" width="3" height="5" fill="#ff5252"/>
<rect x="509" y="621" width="3" height="6" fill="#ff5252"/>
<rect x="514" y="621" width="3" height="6" fill="#ffcdd2"/>
<rect x="519" y="621" width="3" height="7" fill="#ff5252"/>
<rect x="524" y="621" width="3" height="10" fill="#ff5252"/>
<rect x="529" y="621" width="3" height="14" fill="#ff5252"/>
<rect x="534" y="621" width="3" height="17" fill="#ff5252"/>
<rect x="539" y="621" width="3" height="19" fill="#ff5252"/>
<rect x="544" y="621" width="3" height="16" fill="#ffcdd2"/>
<rect x="549" y="621" width="3" height="15" fill="#ffcdd2"/>
<rect x="554" y="621" width="3" height="12" fill="#ffcdd2"/>
<rect x="559" y="621" width="3" height="8" fill="#ffcdd2"/>
<rect x="564" y="621" width="3" height="2" fill="#ffcdd2"/>
<rect x="568" y="619" width="3" height="3" fill="#26a69a"/>
<rect x="573" y="617" width="3" height="5" fill="#26a69a"/>
<rect x="578" y="615" width="3" height="7" fill="#26a69a"/>
<rect x="583" y="615" width="3" height="7" fill="#b2dfdb"/>
<rect x="588" y="615" width="3" height="7" fill="#26a69a"/>
<rect x="593" y="616" width="3" height="6" fill="#b2dfdb"/>
<rect x="598" y="615" width="3" height="7" fill="#26a69a"/>
<rect x="603" y="615" width="3" height="7" fill="#26a69a"/>
<rect x="608" y="616" width="3" height="6" fill="#b2dfdb"/>
<rect x="613" y="618" width="3" height="4" fill="#b2dfdb"/>
<rect x="618" y="617" width="3" height="5" fill="#26a69a"/>
<rect x="623" y="616" width="3" height="6" fill="#26a69a"/>
<rect x="628" y="617" width="3" height="5" fill="#b2dfdb"/>
<rect x="632" y="616" width="3" height="6" fill="#26a69a"/>
<rect x="637" y="614" width="3" height="8" fill="#26a69a"/>
<rect x="642" y="613" width="3" height="9" fill="#26a69a"/>
<rect x="647" y="614" width="3" height="8" fill="#b2dfdb"/>
<rect x="652" y="614" width="3" height="8" fill="#b2dfdb"/>
<rect x="657" y="614" width="3" height="8" fill="#b2dfdb"/>
<rect x="662" y="615" width="3" height="7" fill="#b2dfdb"/>
<rect x="667" y="618" width="3" height="4" fill="#b2dfdb"/>
<rect x="672" y="619" width="3" height="3" fill="#b2dfdb"/>
<rect x="677" y="618" width="3" height="4" fill="#26a69a"/>
<rect x="682" y="619" width="3" height="3" fill="#b2dfdb"/>
<rect x="687" y="619" width="3" height="3" fill="#b2dfdb"/>
<rect x="692" y="620" width="3" height="2" fill="#b2dfdb"/>
<rect x="696" y="620" width="3" height="2" fill="#26a69a"/>
<rect x="701" y="618" width="3" height="4" fill="#26a69a"/>
<rect x="706" y="618" width="3" height="4" fill="#26a69a"/>
<rect x="711" y="617" width="3" height="5" fill="#26a69a"/>
<rect x="716" y="619" width="3" height="3" fill="#b2dfdb"/>
<rect x="721" y="620" width="3" height="2" fill="#b2dfdb"/>
<rect x="726" y="620" width="3" height="2" fill="#b2dfdb"/>
<rect x="731" y="619" width="3" height="3" fill="#26a69a"/>
<rect x="736" y="619" width="3" height="3" fill="#26a69a"/>
<rect x="741" y="620" width="3" height="2" fill="#b2dfdb"/>
<rect x="746" y="620" width="3" height="2" fill="#26a69a"/>
<rect x="751" y="620" width="3" height="2" fill="#b2dfdb"/>
<rect x="755" y="621" width="3" height="2" fill="#ff5252"/>
<rect x="760" y="621" width="3" height="2" fill="#ffcdd2"/>
<rect x="765" y="621" width="3" height="2" fill="#ff5252"/>
<rect x="770" y="620" width="3" height="2" fill="#26a69a"/>
<rect x="775" y="621" width="3" height="4" fill="#ff5252"/>
<rect x="780" y="621" width="3" height="6" fill="#ff5252"/>
<rect x="785" y="621" width="3" height="7" fill="#ff5252"/>
<rect x="790" y="621" width="3" height="7" fill="#ffcdd2"/>
<rect x="795" y="621" width="3" height="5" fill="#ffcdd2"/>
<rect x="800" y="621" width="3" height="2" fill="#ffcdd2"/>
<rect x="805" y="620" width="3" height="2" fill="#26a69a"/>
<rect x="810" y="619" width="3" height="3" fill="#26a69a"/>
<rect x="815" y="618" width="3" height="4" fill="#26a69a"/>
<rect x="819" y="618" width="3" height="4" fill="#b2dfdb"/>
<rect x="824" y="618" width="3" height="4" fill="#26a69a"/>
<rect x="829" y="618" width="3" height="4" fill="#b2dfdb"/>
<rect x="834" y="618" width="3" height="4" fill="#b2dfdb"/>
<rect x="839" y="620" width="3" height="2" fill="#b2dfdb"/>
<rect x="844" y="620" width="3" height="2" fill="#b2dfdb"/>
<rect x="849" y="621" width="3" height="3" fill="#ff5252"/>
<rect x="854" y="621" width="3" height="6" fill="#ff5252"/>
<rect x="859" y="621" width="3" height="8" fill="#ff5252"/>
<rect x="864" y="621" width="3" height="9" fill="#ff5252"/>
<rect x="869" y="621" width="3" height="9" fill="#ff5252"/>
<rect x="874" y="621" width="3" height="11" fill="#ff5252"/>
<rect x="879" y="621" width="3" height="10" fill="#ffcdd2"/>
<rect x="883" y="621" width="3" height="9" fill="#ffcdd2"/>
<rect x="888" y="621" width="3" height="6" fill="#ffcdd2"/>
<rect x="893" y="621" width="3" height="4" fill="#ffcdd2"/>
<rect x="898" y="621" width="3" height="2" fill="#ffcdd2"/>
<rect x="903" y="620" width="3" height="2" fill="#26a69a"/>
<rect x="908" y="620" width="3" height="2" fill="#26a69a"/>
<rect x="913" y="620" width="3" height="2" fill="#b2dfdb"/>
<rect x="918" y="621" width="3" height="3" fill="#ff5252"/>
<rect x="923" y="621" width="3" height="2" fill="#ffcdd2"/>
<rect x="928" y="621" width="3" height="3" fill="#ff5252"/>
<rect x="933" y="621" width="3" height="2" fill="#ffcdd2"/>
<rect x="938" y="620" width="3" height="2" fill="#26a69a"/>
<rect x="943" y="620" width="3" height="2" fill="#26a69a"/>
<rect x="947" y="619" width="3" height="3" fill="#26a69a"/>
<rect x="952" y="618" width="3" height="4" fill="#26a69a"/>
<rect x="957" y="617" width="3" height="5" fill="#26a69a"/>
<rect x="962" y="615" width="3" height="7" fill="#26a69a"/>
<rect x="967" y="615" width="3" height="7" fill="#b2dfdb"/>
<rect x="972" y="616" width="3" height="6" fill="#b2dfdb"/>
<rect x="977" y="616" width="3" height="6" fill="#b2dfdb"/>
<rect x="982" y="616" width="3" height="6" fill="#26a69a"/>
<rect x="987" y="613" width="3" height="9" fill="#26a69a"/>
<rect x="992" y="608" width="3" height="14" fill="#26a69a"/>
<rect x="997" y="607" width="3" height="15" fill="#26a69a"/>
<rect x="1002" y="606" width="3" height="16" fill="#26a69a"/>
<rect x="1007" y="607" width="3" height="15" fill="#b2dfdb"/>
<rect x="1011" y="605" width="3" height="17" fill="#26a69a"/>
<rect x="1016" y="606" width="3" height="16" fill="#b2dfdb"/>
<rect x="1021" y="607" width="3" height="15" fill="#b2dfdb"/>
<rect x="1026" y="608" width="3" height="14" fill="#b2dfdb"/>
<rect x="1031" y="611" width="3" height="11" fill="#b2dfdb"/>
<rect x="1036" y="613" width="3" height="9" fill="#b2dfdb"/>
<rect x="1041" y="612" width="3" height="10" fill="#26a69a"/>
<rect x="1046" y="612" width="3" height="10" fill="#b2dfdb"/>
<rect x="1051" y="612" width="3" height="10" fill="#26a69a"/>
<rect x="1056" y="612" width="3" height="10" fill="#26a69a"/>
<rect x="1061" y="613" width="3" height="9" fill="#b2dfdb"/>
<rect x="1066" y="613" width="3" height="9" fill="#26a69a"/>
<rect x="1071" y="614" width="3" height="8" fill="#b2dfdb"/>
<rect x="1075" y="615" width="3" height="7" fill="#b2dfdb"/>
<rect x="1080" y="615" width="3" height="7" fill="#b2dfdb"/>
<rect x="1085" y="617" width="3" height="5" fill="#b2dfdb"/>
<rect x="1090" y="620" width="3" height="2" fill="#b2dfdb"/>
<rect x="1095" y="621" width="3" height="2" fill="#ff5252"/>
<rect x="1100" y="621" width="3" height="5" fill="#ff5252"/>
<rect x="1105" y="621" width="3" height="6" fill="#ff5252"/>
<rect x="1110" y="621" width="3" height="9" fill="#ff5252"/>
<rect x="1115" y="621" width="3" height="10" fill="#ff5252"/>
<rect x="1120" y="621" width="3" height="10" fill="#ff5252"/>
<rect x="1125" y="621" width="3" height="11" fill="#ff5252"/>
<rect x="1130" y="621" width="3" height="10" fill="#ffcdd2"/>
<rect x="1135" y="621" width="3" height="10" fill="#ffcdd2"/>
<rect x="1139" y="621" width="3" height="10" fill="#ff5252"/>
<rect x="1144" y="621" width="3" height="10" fill="#ff5252"/>
<rect x="1149" y="621" width="3" height="11" fill="#ff5252"/>
<rect x="1154" y="621" width="3" height="10" fill="#ffcdd2"/>
<rect x="1159" y="621" width="3" height="7" fill="#ffcdd2"/>
<rect x="1164" y="621" width="3" height="10" fill="#ff5252"/>
<rect x="1169" y="621" width="3" height="10" fill="#ff5252"/>
<rect x="1174" y="621" width="3" height="10" fill="#ffcdd2"/>
<rect x="1179" y="621" width="3" height="10" fill="#ffcdd2"/>
<rect x="1184" y="621" width="3" height="8" fill="#ffcdd2"/>
<rect x="1189" y="621" width="3" height="7" fill="#ffcdd2"/>
<rect x="1194" y="621" width="3" height="5" fill="#ffcdd2"/>
<rect x="1199" y="621" width="3" height="4" fill="#ffcdd2"/>
<rect x="1203" y="621" width="3" height="3" fill="#ffcdd2"/>
<rect x="1208" y="621" width="3" height="2" fill="#ffcdd2"/>
<rect x="1213" y="620" width="3" height="2" fill="#26a69a"/>
<rect x="1218" y="619" width="3" height="3" fill="#26a69a"/>
<rect x="1223" y="619" width="3" height="3" fill="#26a69a"/>
<rect x="1228" y="620" width="3" height="2" fill="#b2dfdb"/>
<rect x="1233" y="620" width="3" height="2" fill="#b2dfdb"/>
<rect x="1238" y="620" width="3" height="2" fill="#26a69a"/>
<rect x="1243" y="619" width="3" height="3" fill="#26a69a"/>
<rect x="1248" y="620" width="3" height="2" fill="#b2dfdb"/>
<rect x="1253" y="621" width="3" height="3" fill="#ff5252"/>
<rect x="1258" y="621" width="3" height="4" fill="#ff5252"/>
<rect x="1263" y="621" width="3" height="3" fill="#ffcdd2"/>
<rect x="1267" y="621" width="3" height="4" fill="#ff5252"/>
<rect x="1272" y="621" width="3" height="2" fill="#ffcdd2"/>
<rect x="1277" y="621" width="3" height="2" fill="#ffcdd2"/>
<rect x="1282" y="620" width="3" height="2" fill="#26a69a"/>
<rect x="1287" y="620" width="3" height="2" fill="#26a69a"/>
<rect x="1292" y="620" width="3" height="2" fill="#26a69a"/>
<rect x="1297" y="620" width="3" height="2" fill="#26a69a"/>
<rect x="1302" y="618" width="3" height="4" fill="#26a69a"/>
<rect x="1307" y="618" width="3" height="4" fill="#26a69a"/>
<rect x="1312" y="617" width="3" height="5" fill="#26a69a"/>
<rect x="1317" y="616" width="3" height="6" fill="#26a69a"/>
<rect x="1322" y="614" width="3" height="8" fill="#26a69a"/>
<defs><linearGradient id="gob" gradientUnits="userSpaceOnUse" x1="0" y1="346.2" x2="0" y2="414.2"><stop offset="0" stop-color="#4caf50" stop-opacity="0.6"/><stop offset="1" stop-color="#4caf50" stop-opacity="0"/></linearGradient><linearGradient id="gos" gradientUnits="userSpaceOnUse" x1="0" y1="504.8" x2="0" y2="572.8"><stop offset="0" stop-color="#ff5252" stop-opacity="0"/><stop offset="1" stop-color="#ff5252" stop-opacity="0.85"/></linearGradient><clipPath id="cob"><rect x="13" y="377" width="1413" height="37.5"/></clipPath><clipPath id="cos"><rect x="13" y="504.5" width="1413" height="30"/></clipPath></defs>
<polygon points="14.5,414.5 14.5,482.20 19.5,462.88 24.5,467.50 28.5,469.83 33.5,472.59 38.5,470.27 43.5,462.14 48.5,456.98 53.5,444.42 58.5,451.72 63.5,446.36 68.5,437.25 73.5,430.23 78.5,449.73 83.5,446.73 88.5,442.70 92.5,440.66 97.5,433.55 102.5,440.46 107.5,437.53 112.5,436.70 117.5,459.28 122.5,457.17 127.5,454.66 132.5,438.95 137.5,425.93 142.5,420.98 147.5,418.89 151.5,413.73 156.5,422.37 161.5,430.30 166.5,432.55 171.5,444.43 176.5,434.88 181.5,428.18 186.5,431.69 191.5,437.01 196.5,441.64 201.5,433.04 206.5,442.11 211.5,446.71 215.5,450.63 220.5,458.21 225.5,464.68 230.5,450.92 235.5,458.58 240.5,458.24 245.5,454.24 250.5,454.91 255.5,466.51 260.5,451.03 265.5,459.46 270.5,472.38 275.5,464.20 279.5,439.69 284.5,440.17 289.5,423.20 294.5,400.24 299.5,414.61 304.5,407.01 309.5,409.73 314.5,400.15 319.5,392.47 324.5,422.93 329.5,419.55 334.5,414.02 339.5,431.20 343.5,429.54 348.5,442.81 353.5,436.51 358.5,451.29 363.5,451.27 368.5,442.79 373.5,451.37 378.5,443.80 383.5,446.55 388.5,440.43 393.5,434.59 398.5,442.38 403.5,443.85 407.5,456.17 412.5,485.03 417.5,494.23 422.5,492.89 427.5,481.20 432.5,464.69 437.5,473.28 442.5,469.59 447.5,472.75 452.5,478.57 457.5,471.60 462.5,469.39 467.5,459.13 471.5,462.94 476.5,468.96 481.5,473.44 486.5,469.45 491.5,474.32 496.5,476.98 501.5,483.79 506.5,482.84 511.5,490.86 516.5,484.30 521.5,495.31 526.5,503.64 531.5,516.11 535.5,518.43 540.5,521.09 545.5,504.39 550.5,509.42 555.5,501.87 560.5,488.58 565.5,473.90 570.5,477.92 575.5,475.14 580.5,474.44 585.5,482.41 590.5,481.51 595.5,488.17 599.5,480.02 604.5,477.86 609.5,486.79 614.5,491.39 619.5,478.77 624.5,475.43 629.5,481.70 634.5,474.25 639.5,460.49 644.5,461.39 649.5,467.89 654.5,467.89 659.5,465.35 663.5,471.48 668.5,484.60 673.5,483.30 678.5,466.75 683.5,475.97 688.5,471.59 693.5,480.65 698.5,470.34 703.5,459.37 708.5,463.40 713.5,456.63 718.5,474.08 722.5,473.78 727.5,469.51 732.5,460.59 737.5,461.79 742.5,475.48 747.5,466.16 752.5,475.21 757.5,477.70 762.5,470.96 767.5,475.14 772.5,451.82 777.5,496.72 782.5,491.44 786.5,492.98 791.5,486.21 796.5,478.09 801.5,459.04 806.5,455.81 811.5,461.60 816.5,458.06 821.5,463.91 826.5,460.18 831.5,465.19 836.5,464.89 841.5,483.04 846.5,475.47 850.5,489.82 855.5,501.43 860.5,503.72 865.5,506.72 870.5,507.38 875.5,516.91 880.5,504.59 885.5,505.27 890.5,491.49 895.5,486.64 900.5,487.55 905.5,484.15 910.5,484.94 914.5,500.11 919.5,515.11 924.5,491.17 929.5,500.44 934.5,484.17 939.5,478.78 944.5,481.69 949.5,474.67 954.5,479.12 959.5,467.45 964.5,460.60 969.5,469.55 974.5,471.96 978.5,474.44 983.5,466.50 988.5,434.78 993.5,416.39 998.5,436.86 1003.5,428.48 1008.5,435.80 1013.5,417.44 1018.5,431.80 1023.5,427.31 1028.5,428.34 1033.5,437.71 1038.5,436.15 1042.5,418.12 1047.5,423.06 1052.5,418.59 1057.5,414.88 1062.5,418.87 1067.5,410.65 1072.5,416.04 1077.5,413.44 1082.5,408.25 1087.5,426.62 1092.5,442.49 1097.5,439.12 1102.5,449.56 1106.5,443.88 1111.5,457.31 1116.5,454.42 1121.5,457.64 1126.5,460.09 1131.5,449.69 1136.5,458.35 1141.5,467.74 1146.5,467.47 1151.5,474.72 1156.5,466.20 1161.5,449.98 1166.5,482.17 1170.5,477.47 1175.5,478.24 1180.5,480.05 1185.5,466.21 1190.5,473.57 1195.5,461.27 1200.5,470.01 1205.5,466.26 1210.5,453.35 1215.5,454.39 1220.5,449.85 1225.5,456.61 1230.5,465.70 1234.5,465.55 1239.5,454.52 1244.5,453.11 1249.5,469.95 1254.5,486.66 1259.5,480.60 1264.5,468.92 1269.5,476.95 1274.5,457.21 1279.5,459.53 1284.5,454.54 1289.5,463.69 1294.5,472.31 1298.5,456.46 1303.5,441.93 1308.5,449.76 1313.5,446.39 1318.5,438.94 1323.5,429.79 1323.5,414.5" fill="url(#gob)" clip-path="url(#cob)" shape-rendering="geometricPrecision"/>
<polygon points="14.5,504.5 14.5,482.20 19.5,462.88 24.5,467.50 28.5,469.83 33.5,472.59 38.5,470.27 43.5,462.14 48.5,456.98 53.5,444.42 58.5,451.72 63.5,446.36 68.5,437.25 73.5,430.23 78.5,449.73 83.5,446.73 88.5,442.70 92.5,440.66 97.5,433.55 102.5,440.46 107.5,437.53 112.5,436.70 117.5,459.28 122.5,457.17 127.5,454.66 132.5,438.95 137.5,425.93 142.5,420.98 147.5,418.89 151.5,413.73 156.5,422.37 161.5,430.30 166.5,432.55 171.5,444.43 176.5,434.88 181.5,428.18 186.5,431.69 191.5,437.01 196.5,441.64 201.5,433.04 206.5,442.11 211.5,446.71 215.5,450.63 220.5,458.21 225.5,464.68 230.5,450.92 235.5,458.58 240.5,458.24 245.5,454.24 250.5,454.91 255.5,466.51 260.5,451.03 265.5,459.46 270.5,472.38 275.5,464.20 279.5,439.69 284.5,440.17 289.5,423.20 294.5,400.24 299.5,414.61 304.5,407.01 309.5,409.73 314.5,400.15 319.5,392.47 324.5,422.93 329.5,419.55 334.5,414.02 339.5,431.20 343.5,429.54 348.5,442.81 353.5,436.51 358.5,451.29 363.5,451.27 368.5,442.79 373.5,451.37 378.5,443.80 383.5,446.55 388.5,440.43 393.5,434.59 398.5,442.38 403.5,443.85 407.5,456.17 412.5,485.03 417.5,494.23 422.5,492.89 427.5,481.20 432.5,464.69 437.5,473.28 442.5,469.59 447.5,472.75 452.5,478.57 457.5,471.60 462.5,469.39 467.5,459.13 471.5,462.94 476.5,468.96 481.5,473.44 486.5,469.45 491.5,474.32 496.5,476.98 501.5,483.79 506.5,482.84 511.5,490.86 516.5,484.30 521.5,495.31 526.5,503.64 531.5,516.11 535.5,518.43 540.5,521.09 545.5,504.39 550.5,509.42 555.5,501.87 560.5,488.58 565.5,473.90 570.5,477.92 575.5,475.14 580.5,474.44 585.5,482.41 590.5,481.51 595.5,488.17 599.5,480.02 604.5,477.86 609.5,486.79 614.5,491.39 619.5,478.77 624.5,475.43 629.5,481.70 634.5,474.25 639.5,460.49 644.5,461.39 649.5,467.89 654.5,467.89 659.5,465.35 663.5,471.48 668.5,484.60 673.5,483.30 678.5,466.75 683.5,475.97 688.5,471.59 693.5,480.65 698.5,470.34 703.5,459.37 708.5,463.40 713.5,456.63 718.5,474.08 722.5,473.78 727.5,469.51 732.5,460.59 737.5,461.79 742.5,475.48 747.5,466.16 752.5,475.21 757.5,477.70 762.5,470.96 767.5,475.14 772.5,451.82 777.5,496.72 782.5,491.44 786.5,492.98 791.5,486.21 796.5,478.09 801.5,459.04 806.5,455.81 811.5,461.60 816.5,458.06 821.5,463.91 826.5,460.18 831.5,465.19 836.5,464.89 841.5,483.04 846.5,475.47 850.5,489.82 855.5,501.43 860.5,503.72 865.5,506.72 870.5,507.38 875.5,516.91 880.5,504.59 885.5,505.27 890.5,491.49 895.5,486.64 900.5,487.55 905.5,484.15 910.5,484.94 914.5,500.11 919.5,515.11 924.5,491.17 929.5,500.44 934.5,484.17 939.5,478.78 944.5,481.69 949.5,474.67 954.5,479.12 959.5,467.45 964.5,460.60 969.5,469.55 974.5,471.96 978.5,474.44 983.5,466.50 988.5,434.78 993.5,416.39 998.5,436.86 1003.5,428.48 1008.5,435.80 1013.5,417.44 1018.5,431.80 1023.5,427.31 1028.5,428.34 1033.5,437.71 1038.5,436.15 1042.5,418.12 1047.5,423.06 1052.5,418.59 1057.5,414.88 1062.5,418.87 1067.5,410.65 1072.5,416.04 1077.5,413.44 1082.5,408.25 1087.5,426.62 1092.5,442.49 1097.5,439.12 1102.5,449.56 1106.5,443.88 1111.5,457.31 1116.5,454.42 1121.5,457.64 1126.5,460.09 1131.5,449.69 1136.5,458.35 1141.5,467.74 1146.5,467.47 1151.5,474.72 1156.5,466.20 1161.5,449.98 1166.5,482.17 1170.5,477.47 1175.5,478.24 1180.5,480.05 1185.5,466.21 1190.5,473.57 1195.5,461.27 1200.5,470.01 1205.5,466.26 1210.5,453.35 1215.5,454.39 1220.5,449.85 1225.5,456.61 1230.5,465.70 1234.5,465.55 1239.5,454.52 1244.5,453.11 1249.5,469.95 1254.5,486.66 1259.5,480.60 1264.5,468.92 1269.5,476.95 1274.5,457.21 1279.5,459.53 1284.5,454.54 1289.5,463.69 1294.5,472.31 1298.5,456.46 1303.5,441.93 1308.5,449.76 1313.5,446.39 1318.5,438.94 1323.5,429.79 1323.5,504.5" fill="url(#gos)" clip-path="url(#cos)" shape-rendering="geometricPrecision"/>
<polyline points="14.5,447.85 19.5,450.68 24.5,453.84 28.5,457.01 33.5,460.37 38.5,463.40 43.5,465.70 48.5,467.46 53.5,468.16 58.5,468.90 63.5,467.97 68.5,465.08 73.5,460.89 78.5,457.44 83.5,454.90 88.5,453.46 92.5,451.54 97.5,448.95 102.5,446.66 107.5,444.32 112.5,442.50 117.5,442.67 122.5,443.58 127.5,443.79 132.5,443.26 137.5,442.45 142.5,441.79 147.5,439.59 151.5,437.23 156.5,435.78 161.5,435.04 166.5,434.97 171.5,435.25 176.5,435.06 181.5,434.45 186.5,432.48 191.5,431.04 196.5,430.11 201.5,429.69 206.5,430.84 211.5,432.68 215.5,434.95 220.5,438.12 225.5,441.15 230.5,442.62 235.5,444.48 240.5,445.47 245.5,446.85 250.5,448.76 255.5,451.25 260.5,452.25 265.5,453.52 270.5,456.33 275.5,457.91 279.5,457.41 284.5,456.66 289.5,454.16 294.5,449.56 299.5,446.96 304.5,443.28 309.5,439.81 314.5,435.95 319.5,431.49 324.5,428.38 329.5,426.13 334.5,422.88 339.5,419.94 343.5,417.46 348.5,417.69 353.5,417.43 358.5,419.43 363.5,423.08 368.5,425.09 373.5,428.26 378.5,430.69 383.5,434.01 388.5,437.43 393.5,438.27 398.5,439.90 403.5,442.03 407.5,443.81 412.5,447.77 417.5,451.45 422.5,455.48 427.5,457.61 432.5,458.57 437.5,460.75 442.5,462.05 447.5,464.12 452.5,466.40 457.5,468.63 462.5,471.12 467.5,472.31 471.5,473.68 476.5,474.59 481.5,473.76 486.5,471.99 491.5,470.67 496.5,470.36 501.5,471.73 506.5,472.41 511.5,473.93 516.5,474.75 521.5,475.95 526.5,478.24 531.5,481.58 535.5,485.81 540.5,489.96 545.5,492.50 550.5,495.07 555.5,497.38 560.5,498.40 565.5,498.18 570.5,497.76 575.5,497.21 580.5,496.04 585.5,495.90 590.5,494.92 595.5,493.81 599.5,491.23 604.5,488.34 609.5,485.89 614.5,484.96 619.5,482.77 624.5,480.88 629.5,480.39 634.5,480.41 639.5,479.17 644.5,478.19 649.5,477.72 654.5,476.68 659.5,475.53 663.5,474.33 668.5,474.66 673.5,475.05 678.5,473.62 683.5,472.52 688.5,472.00 693.5,472.38 698.5,471.57 703.5,470.50 708.5,470.71 713.5,470.37 718.5,470.81 722.5,471.24 727.5,471.53 732.5,470.75 737.5,469.12 742.5,468.57 747.5,468.52 752.5,468.47 757.5,468.91 762.5,468.21 767.5,468.56 772.5,468.02 777.5,470.40 782.5,472.88 786.5,474.23 791.5,475.12 796.5,475.74 801.5,475.62 806.5,475.20 811.5,474.21 816.5,473.63 821.5,472.82 826.5,471.57 831.5,471.16 836.5,470.42 841.5,472.65 846.5,471.14 850.5,471.02 855.5,471.63 860.5,472.88 865.5,474.92 870.5,478.37 875.5,482.74 880.5,485.81 885.5,489.18 890.5,491.15 895.5,493.04 900.5,494.64 905.5,496.01 910.5,496.15 914.5,497.91 919.5,499.71 924.5,498.98 929.5,498.75 934.5,497.14 939.5,495.09 944.5,492.58 949.5,490.44 954.5,488.57 959.5,486.86 964.5,485.00 969.5,483.71 974.5,482.84 978.5,482.09 983.5,479.69 988.5,473.95 993.5,468.61 998.5,464.07 1003.5,460.09 1008.5,457.02 1013.5,452.43 1018.5,449.37 1023.5,445.67 1028.5,442.87 1033.5,441.24 1038.5,438.85 1042.5,435.01 1047.5,431.34 1052.5,427.92 1057.5,426.49 1062.5,426.67 1067.5,424.80 1072.5,423.91 1077.5,422.31 1082.5,421.66 1087.5,421.29 1092.5,422.37 1097.5,423.14 1102.5,423.99 1106.5,424.54 1111.5,427.34 1116.5,429.58 1121.5,432.37 1126.5,435.60 1131.5,437.80 1136.5,441.21 1141.5,444.90 1146.5,448.76 1151.5,453.51 1156.5,456.33 1161.5,456.87 1166.5,459.94 1170.5,461.94 1175.5,464.39 1180.5,466.02 1185.5,466.86 1190.5,468.00 1195.5,468.08 1200.5,469.53 1205.5,470.10 1210.5,469.07 1215.5,468.13 1220.5,466.36 1225.5,465.67 1230.5,466.80 1234.5,465.61 1239.5,463.97 1244.5,462.18 1249.5,461.45 1254.5,462.91 1259.5,463.42 1264.5,463.96 1269.5,464.46 1274.5,463.81 1279.5,464.25 1284.5,464.26 1289.5,465.25 1294.5,466.37 1298.5,465.71 1303.5,464.03 1308.5,463.69 1313.5,463.21 1318.5,460.99 1323.5,456.93" fill="none" stroke="#fdd835" stroke-width="1.3" stroke-linejoin="round" shape-rendering="geometricPrecision"/>
<polyline points="14.5,482.20 19.5,462.88 24.5,467.50 28.5,469.83 33.5,472.59 38.5,470.27 43.5,462.14 48.5,456.98 53.5,444.42 58.5,451.72 63.5,446.36 68.5,437.25 73.5,430.23 78.5,449.73 83.5,446.73 88.5,442.70 92.5,440.66 97.5,433.55 102.5,440.46 107.5,437.53 112.5,436.70 117.5,459.28 122.5,457.17 127.5,454.66 132.5,438.95 137.5,425.93 142.5,420.98 147.5,418.89 151.5,413.73 156.5,422.37 161.5,430.30 166.5,432.55 171.5,444.43 176.5,434.88 181.5,428.18 186.5,431.69 191.5,437.01 196.5,441.64 201.5,433.04 206.5,442.11 211.5,446.71 215.5,450.63 220.5,458.21 225.5,464.68 230.5,450.92 235.5,458.58 240.5,458.24 245.5,454.24 250.5,454.91 255.5,466.51 260.5,451.03 265.5,459.46 270.5,472.38 275.5,464.20 279.5,439.69 284.5,440.17 289.5,423.20 294.5,400.24 299.5,414.61 304.5,407.01 309.5,409.73 314.5,400.15 319.5,392.47 324.5,422.93 329.5,419.55 334.5,414.02 339.5,431.20 343.5,429.54 348.5,442.81 353.5,436.51 358.5,451.29 363.5,451.27 368.5,442.79 373.5,451.37 378.5,443.80 383.5,446.55 388.5,440.43 393.5,434.59 398.5,442.38 403.5,443.85 407.5,456.17 412.5,485.03 417.5,494.23 422.5,492.89 427.5,481.20 432.5,464.69 437.5,473.28 442.5,469.59 447.5,472.75 452.5,478.57 457.5,471.60 462.5,469.39 467.5,459.13 471.5,462.94 476.5,468.96 481.5,473.44 486.5,469.45 491.5,474.32 496.5,476.98 501.5,483.79 506.5,482.84 511.5,490.86 516.5,484.30 521.5,495.31 526.5,503.64 531.5,516.11 535.5,518.43 540.5,521.09 545.5,504.39 550.5,509.42 555.5,501.87 560.5,488.58 565.5,473.90 570.5,477.92 575.5,475.14 580.5,474.44 585.5,482.41 590.5,481.51 595.5,488.17 599.5,480.02 604.5,477.86 609.5,486.79 614.5,491.39 619.5,478.77 624.5,475.43 629.5,481.70 634.5,474.25 639.5,460.49 644.5,461.39 649.5,467.89 654.5,467.89 659.5,465.35 663.5,471.48 668.5,484.60 673.5,483.30 678.5,466.75 683.5,475.97 688.5,471.59 693.5,480.65 698.5,470.34 703.5,459.37 708.5,463.40 713.5,456.63 718.5,474.08 722.5,473.78 727.5,469.51 732.5,460.59 737.5,461.79 742.5,475.48 747.5,466.16 752.5,475.21 757.5,477.70 762.5,470.96 767.5,475.14 772.5,451.82 777.5,496.72 782.5,491.44 786.5,492.98 791.5,486.21 796.5,478.09 801.5,459.04 806.5,455.81 811.5,461.60 816.5,458.06 821.5,463.91 826.5,460.18 831.5,465.19 836.5,464.89 841.5,483.04 846.5,475.47 850.5,489.82 855.5,501.43 860.5,503.72 865.5,506.72 870.5,507.38 875.5,516.91 880.5,504.59 885.5,505.27 890.5,491.49 895.5,486.64 900.5,487.55 905.5,484.15 910.5,484.94 914.5,500.11 919.5,515.11 924.5,491.17 929.5,500.44 934.5,484.17 939.5,478.78 944.5,481.69 949.5,474.67 954.5,479.12 959.5,467.45 964.5,460.60 969.5,469.55 974.5,471.96 978.5,474.44 983.5,466.50 988.5,434.78 993.5,416.39 998.5,436.86 1003.5,428.48 1008.5,435.80 1013.5,417.44 1018.5,431.80 1023.5,427.31 1028.5,428.34 1033.5,437.71 1038.5,436.15 1042.5,418.12 1047.5,423.06 1052.5,418.59 1057.5,414.88 1062.5,418.87 1067.5,410.65 1072.5,416.04 1077.5,413.44 1082.5,408.25 1087.5,426.62 1092.5,442.49 1097.5,439.12 1102.5,449.56 1106.5,443.88 1111.5,457.31 1116.5,454.42 1121.5,457.64 1126.5,460.09 1131.5,449.69 1136.5,458.35 1141.5,467.74 1146.5,467.47 1151.5,474.72 1156.5,466.20 1161.5,449.98 1166.5,482.17 1170.5,477.47 1175.5,478.24 1180.5,480.05 1185.5,466.21 1190.5,473.57 1195.5,461.27 1200.5,470.01 1205.5,466.26 1210.5,453.35 1215.5,454.39 1220.5,449.85 1225.5,456.61 1230.5,465.70 1234.5,465.55 1239.5,454.52 1244.5,453.11 1249.5,469.95 1254.5,486.66 1259.5,480.60 1264.5,468.92 1269.5,476.95 1274.5,457.21 1279.5,459.53 1284.5,454.54 1289.5,463.69 1294.5,472.31 1298.5,456.46 1303.5,441.93 1308.5,449.76 1313.5,446.39 1318.5,438.94 1323.5,429.79" fill="none" stroke="#7e57c2" stroke-width="1.3" stroke-linejoin="round" shape-rendering="geometricPrecision"/>
<polyline points="14.5,631.04 19.5,630.23 24.5,630.79 28.5,631.77 33.5,633.17 38.5,633.63 43.5,632.11 48.5,629.66 53.5,624.59 58.5,622.09 63.5,618.80 68.5,613.87 73.5,608.06 78.5,607.53 83.5,606.49 88.5,604.79 92.5,603.12 97.5,600.16 102.5,599.28 107.5,598.11 112.5,597.26 117.5,600.88 122.5,603.52 127.5,605.29 132.5,603.46 137.5,598.70 142.5,593.69 147.5,589.42 151.5,584.77 156.5,582.81 161.5,582.91 166.5,583.76 171.5,586.70 176.5,587.24 181.5,586.36 186.5,586.58 191.5,587.93 196.5,590.03 201.5,590.23 206.5,592.03 211.5,594.44 215.5,597.20 220.5,600.76 225.5,604.77 230.5,605.94 235.5,608.19 240.5,610.04 245.5,611.02 250.5,611.99 255.5,614.40 260.5,614.21 265.5,615.29 270.5,618.19 275.5,619.36 279.5,616.12 284.5,613.70 289.5,608.09 294.5,595.77 299.5,588.74 304.5,580.46 309.5,574.88 314.5,566.69 319.5,556.54 324.5,555.32 329.5,553.64 334.5,550.56 339.5,552.81 343.5,554.70 348.5,560.13 353.5,562.87 358.5,569.51 363.5,575.30 368.5,577.70 373.5,582.24 378.5,583.90 383.5,586.28 388.5,586.70 393.5,585.57 398.5,586.76 403.5,588.39 407.5,592.75 412.5,605.04 417.5,618.54 422.5,628.83 427.5,634.11 432.5,633.74 437.5,636.12 442.5,636.83 447.5,638.18 452.5,640.89 457.5,641.14 462.5,640.57 467.5,637.42 471.5,635.71 476.5,635.74 481.5,636.75 486.5,636.55 491.5,637.39 496.5,638.51 501.5,640.87 506.5,642.33 511.5,645.24 516.5,646.22 521.5,649.56 526.5,654.37 531.5,662.45 535.5,669.32 540.5,675.31 545.5,676.90 550.5,679.33 555.5,679.40 560.5,676.61 565.5,671.10 570.5,667.21 575.5,663.13 580.5,659.33 585.5,657.71 590.5,655.88 595.5,655.54 599.5,653.69 604.5,651.56 609.5,651.37 614.5,651.87 619.5,650.21 624.5,648.11 629.5,647.31 634.5,645.39 639.5,641.61 644.5,638.55 649.5,636.94 654.5,635.49 659.5,633.88 663.5,633.30 668.5,634.71 673.5,635.51 678.5,634.11 683.5,634.21 688.5,633.62 693.5,634.35 698.5,633.61 703.5,631.52 708.5,630.29 713.5,628.38 718.5,629.14 722.5,629.61 727.5,629.41 732.5,628.15 737.5,627.21 742.5,628.09 747.5,627.71 752.5,628.49 757.5,629.35 762.5,629.26 767.5,629.61 772.5,627.25 777.5,632.72 782.5,636.20 786.5,639.08 791.5,640.31 796.5,640.04 801.5,636.91 806.5,633.77 811.5,632.02 816.5,630.01 821.5,629.15 826.5,627.90 831.5,627.49 836.5,627.07 841.5,629.22 846.5,629.97 850.5,632.81 855.5,637.24 860.5,641.03 865.5,644.43 870.5,646.97 875.5,650.86 880.5,652.41 885.5,653.40 890.5,652.48 895.5,650.91 900.5,649.48 905.5,647.72 910.5,646.13 914.5,646.85 919.5,650.12 924.5,650.00 929.5,651.44 934.5,650.36 939.5,648.51 944.5,647.23 949.5,645.11 954.5,643.85 959.5,641.25 964.5,638.12 969.5,636.67 974.5,635.69 978.5,635.08 983.5,633.60 988.5,627.93 993.5,619.55 998.5,615.68 1003.5,610.85 1008.5,608.21 1013.5,601.71 1018.5,599.01 1023.5,595.99 1028.5,594.06 1033.5,594.23 1038.5,594.33 1042.5,590.32 1047.5,588.22 1052.5,585.77 1057.5,583.25 1062.5,582.21 1067.5,579.65 1072.5,578.77 1077.5,577.91 1082.5,576.38 1087.5,577.85 1092.5,581.68 1097.5,584.46 1102.5,588.56 1106.5,591.12 1111.5,595.47 1116.5,598.70 1121.5,601.95 1126.5,605.06 1131.5,606.16 1136.5,608.35 1141.5,611.57 1146.5,614.17 1151.5,617.32 1156.5,618.82 1161.5,617.84 1166.5,622.29 1170.5,625.10 1175.5,627.39 1180.5,629.43 1185.5,629.13 1190.5,629.97 1195.5,628.83 1200.5,629.21 1205.5,628.90 1210.5,626.73 1215.5,625.09 1220.5,623.12 1225.5,622.38 1230.5,622.97 1234.5,623.39 1239.5,622.37 1244.5,621.37 1249.5,622.60 1254.5,626.06 1259.5,628.05 1264.5,628.18 1269.5,629.37 1274.5,627.69 1279.5,626.62 1284.5,625.04 1289.5,624.93 1294.5,625.98 1298.5,624.74 1303.5,621.53 1308.5,620.00 1313.5,618.31 1318.5,615.86 1323.5,612.46" fill="none" stroke="#2962ff" stroke-width="1.3" stroke-linejoin="round" shape-rendering="geometricPrecision"/>
<polyline points="14.5,611.52 19.5,615.26 24.5,618.37 28.5,621.05 33.5,623.47 38.5,625.50 43.5,626.83 48.5,627.39 53.5,626.83 58.5,625.88 63.5,624.47 68.5,622.35 73.5,619.49 78.5,617.10 83.5,614.98 88.5,612.94 92.5,610.98 97.5,608.81 102.5,606.91 107.5,605.15 112.5,603.57 117.5,603.03 122.5,603.13 127.5,603.56 132.5,603.54 137.5,602.57 142.5,600.80 147.5,598.52 151.5,595.77 156.5,593.18 161.5,591.12 166.5,589.65 171.5,589.06 176.5,588.70 181.5,588.23 186.5,587.90 191.5,587.91 196.5,588.33 201.5,588.71 206.5,589.37 211.5,590.39 215.5,591.75 220.5,593.55 225.5,595.79 230.5,597.82 235.5,599.90 240.5,601.92 245.5,603.74 250.5,605.39 255.5,607.20 260.5,608.60 265.5,609.94 270.5,611.59 275.5,613.14 279.5,613.74 284.5,613.73 289.5,612.60 294.5,609.24 299.5,605.14 304.5,600.20 309.5,595.14 314.5,589.45 319.5,582.87 324.5,577.36 329.5,572.61 334.5,568.20 339.5,565.12 343.5,563.04 348.5,562.46 353.5,562.54 358.5,563.93 363.5,566.21 368.5,568.51 373.5,571.25 378.5,573.78 383.5,576.28 388.5,578.37 393.5,579.81 398.5,581.20 403.5,582.64 407.5,584.66 412.5,588.73 417.5,594.69 422.5,601.52 427.5,608.04 432.5,613.18 437.5,617.77 442.5,621.58 447.5,624.90 452.5,628.10 457.5,630.71 462.5,632.68 467.5,633.63 471.5,634.04 476.5,634.38 481.5,634.86 486.5,635.20 491.5,635.64 496.5,636.21 501.5,637.14 506.5,638.18 511.5,639.59 516.5,640.92 521.5,642.65 526.5,644.99 531.5,648.48 535.5,652.65 540.5,657.18 545.5,661.12 550.5,664.76 555.5,667.69 560.5,669.48 565.5,669.80 570.5,669.28 575.5,668.05 580.5,666.31 585.5,664.59 590.5,662.85 595.5,661.38 599.5,659.85 604.5,658.19 609.5,656.82 614.5,655.83 619.5,654.71 624.5,653.39 629.5,652.17 634.5,650.82 639.5,648.98 644.5,646.89 649.5,644.90 654.5,643.02 659.5,641.19 663.5,639.61 668.5,638.63 673.5,638.01 678.5,637.23 683.5,636.63 688.5,636.02 693.5,635.69 698.5,635.27 703.5,634.52 708.5,633.68 713.5,632.62 718.5,631.92 722.5,631.46 727.5,631.05 732.5,630.47 737.5,629.82 742.5,629.47 747.5,629.12 752.5,628.99 757.5,629.06 762.5,629.10 767.5,629.20 772.5,628.81 777.5,629.60 782.5,630.92 786.5,632.55 791.5,634.10 796.5,635.29 801.5,635.61 806.5,635.24 811.5,634.60 816.5,633.68 821.5,632.78 826.5,631.80 831.5,630.94 836.5,630.16 841.5,629.98 846.5,629.97 850.5,630.54 855.5,631.88 860.5,633.71 865.5,635.86 870.5,638.08 875.5,640.64 880.5,642.99 885.5,645.07 890.5,646.55 895.5,647.43 900.5,647.84 905.5,647.81 910.5,647.48 914.5,647.35 919.5,647.91 924.5,648.33 929.5,648.95 934.5,649.23 939.5,649.09 944.5,648.71 949.5,647.99 954.5,647.17 959.5,645.98 964.5,644.41 969.5,642.86 974.5,641.43 978.5,640.16 983.5,638.85 988.5,636.66 993.5,633.24 998.5,629.73 1003.5,625.95 1008.5,622.40 1013.5,618.26 1018.5,614.41 1023.5,610.73 1028.5,607.40 1033.5,604.76 1038.5,602.68 1042.5,600.20 1047.5,597.81 1052.5,595.40 1057.5,592.97 1062.5,590.82 1067.5,588.59 1072.5,586.62 1077.5,584.88 1082.5,583.18 1087.5,582.11 1092.5,582.03 1097.5,582.51 1102.5,583.72 1106.5,585.20 1111.5,587.26 1116.5,589.55 1121.5,592.03 1126.5,594.63 1131.5,596.94 1136.5,599.22 1141.5,601.69 1146.5,604.19 1151.5,606.81 1156.5,609.21 1161.5,610.94 1166.5,613.21 1170.5,615.59 1175.5,617.95 1180.5,620.24 1185.5,622.02 1190.5,623.61 1195.5,624.65 1200.5,625.56 1205.5,626.23 1210.5,626.33 1215.5,626.08 1220.5,625.49 1225.5,624.87 1230.5,624.49 1234.5,624.27 1239.5,623.89 1244.5,623.39 1249.5,623.23 1254.5,623.80 1259.5,624.65 1264.5,625.35 1269.5,626.15 1274.5,626.46 1279.5,626.49 1284.5,626.20 1289.5,625.95 1294.5,625.95 1298.5,625.71 1303.5,624.88 1308.5,623.90 1313.5,622.78 1318.5,621.40 1323.5,619.61" fill="none" stroke="#ff6d00" stroke-width="1.3" stroke-linejoin="round" shape-rendering="geometricPrecision"/>
<defs><filter id="ga" filterUnits="userSpaceOnUse" x="0" y="0" width="1554" height="772"><feOffset dx="0" dy="0"/></filter></defs><g filter="url(#ga)">
<text x="13.7" y="24.6" font-size="15.5" fill="#0c0c0c" stroke="#0c0c0c" stroke-width="0.3" font-weight="normal" text-anchor="start" textLength="132.8" lengthAdjust="spacingAndGlyphs" shape-rendering="geometricPrecision" text-rendering="geometricPrecision">ParshwaTurakhiya28</text>
<text x="152.7" y="24.6" font-size="15.5" fill="#0c0c0c" stroke="#0c0c0c" stroke-width="0.3" font-weight="normal" text-anchor="start" textLength="62.2" lengthAdjust="spacingAndGlyphs" shape-rendering="geometricPrecision" text-rendering="geometricPrecision">published</text>
<text x="220.8" y="24.6" font-size="15.5" fill="#0c0c0c" stroke="#0c0c0c" stroke-width="0.3" font-weight="normal" text-anchor="start" textLength="15.5" lengthAdjust="spacingAndGlyphs" shape-rendering="geometricPrecision" text-rendering="geometricPrecision">on</text>
<text x="242.2" y="24.6" font-size="15.5" fill="#0c0c0c" stroke="#0c0c0c" stroke-width="0.3" font-weight="normal" text-anchor="start" textLength="116.2" lengthAdjust="spacingAndGlyphs" shape-rendering="geometricPrecision" text-rendering="geometricPrecision">TradingView.com,</text>
<text x="364.5" y="24.6" font-size="15.5" fill="#0c0c0c" stroke="#0c0c0c" stroke-width="0.3" font-weight="normal" text-anchor="start" textLength="25.4" lengthAdjust="spacingAndGlyphs" shape-rendering="geometricPrecision" text-rendering="geometricPrecision">May</text>
<text x="395.2" y="24.6" font-size="15.5" fill="#0c0c0c" stroke="#0c0c0c" stroke-width="0.3" font-weight="normal" text-anchor="start" textLength="19.9" lengthAdjust="spacingAndGlyphs" shape-rendering="geometricPrecision" text-rendering="geometricPrecision">27,</text>
<text x="421.5" y="24.6" font-size="15.5" fill="#0c0c0c" stroke="#0c0c0c" stroke-width="0.3" font-weight="normal" text-anchor="start" textLength="29.7" lengthAdjust="spacingAndGlyphs" shape-rendering="geometricPrecision" text-rendering="geometricPrecision">2025</text>
<text x="457.1" y="24.6" font-size="15.5" fill="#0c0c0c" stroke="#0c0c0c" stroke-width="0.3" font-weight="normal" text-anchor="start" textLength="35.8" lengthAdjust="spacingAndGlyphs" shape-rendering="geometricPrecision" text-rendering="geometricPrecision">08:19</text>
<text x="499.1" y="24.6" font-size="15.5" fill="#0c0c0c" stroke="#0c0c0c" stroke-width="0.3" font-weight="normal" text-anchor="start" textLength="25.9" lengthAdjust="spacingAndGlyphs" shape-rendering="geometricPrecision" text-rendering="geometricPrecision">UTC</text>
<text x="23.5" y="58.7" font-size="15.5" fill="#131722" stroke="#131722" stroke-width="0.3" font-weight="normal" text-anchor="start" textLength="31.1" lengthAdjust="spacingAndGlyphs" shape-rendering="geometricPrecision" text-rendering="geometricPrecision">Pepe</text>
<text x="60.3" y="58.7" font-size="15.5" fill="#131722" stroke="#131722" stroke-width="0.3" font-weight="normal" text-anchor="start" shape-rendering="geometricPrecision" text-rendering="geometricPrecision">·</text>
<text x="70.5" y="58.7" font-size="15.5" fill="#131722" stroke="#131722" stroke-width="0.3" font-weight="normal" text-anchor="start" textLength="13.9" lengthAdjust="spacingAndGlyphs" shape-rendering="geometricPrecision" text-rendering="geometricPrecision">30</text>
<text x="90.8" y="58.7" font-size="15.5" fill="#131722" stroke="#131722" stroke-width="0.3" font-weight="normal" text-anchor="start" shape-rendering="geometricPrecision" text-rendering="geometricPrecision">·</text>
<text x="100.4" y="58.7" font-size="15.5" fill="#131722" stroke="#131722" stroke-width="0.3" font-weight="normal" text-anchor="start" textLength="50.8" lengthAdjust="spacingAndGlyphs" shape-rendering="geometricPrecision" text-rendering="geometricPrecision">CRYPTO</text>
<text x="161.4" y="58.7" font-size="15.5" fill="#131722" stroke="#131722" stroke-width="0.3" font-weight="normal" text-anchor="start" textLength="9.4" lengthAdjust="spacingAndGlyphs" shape-rendering="geometricPrecision" text-rendering="geometricPrecision">O</text>
<text x="171.8" y="58.7" font-size="15.5" fill="#089981" stroke="#089981" stroke-width="0.3" font-weight="normal" text-anchor="start" textLength="83.2" lengthAdjust="spacingAndGlyphs" shape-rendering="geometricPrecision" text-rendering="geometricPrecision">0.000013990</text>
<text x="265.4" y="58.7" font-size="15.5" fill="#131722" stroke="#131722" stroke-width="0.3" font-weight="normal" text-anchor="start" textLength="9.4" lengthAdjust="spacingAndGlyphs" shape-rendering="geometricPrecision" text-rendering="geometricPrecision">H</text>
<text x="275.2" y="58.7" font-size="15.5" fill="#089981" stroke="#089981" stroke-width="0.3" font-weight="normal" text-anchor="start" textLength="83.2" lengthAdjust="spacingAndGlyphs" shape-rendering="geometricPrecision" text-rendering="geometricPrecision">0.000014192</text>
<text x="367.6" y="58.7" font-size="15.5" fill="#131722" stroke="#131722" stroke-width="0.3" font-weight="normal" text-anchor="start" shape-rendering="geometricPrecision" text-rendering="geometricPrecision">L</text>
<text x="375.8" y="58.7" font-size="15.5" fill="#089981" stroke="#089981" stroke-width="0.3" font-weight="normal" text-anchor="start" textLength="83.4" lengthAdjust="spacingAndGlyphs" shape-rendering="geometricPrecision" text-rendering="geometricPrecision">0.000013990</text>
<text x="468.2" y="58.7" font-size="15.5" fill="#131722" stroke="#131722" stroke-width="0.3" font-weight="normal" text-anchor="start" textLength="9.2" lengthAdjust="spacingAndGlyphs" shape-rendering="geometricPrecision" text-rendering="geometricPrecision">C</text>
<text x="477.5" y="58.7" font-size="15.5" fill="#089981" stroke="#089981" stroke-width="0.3" font-weight="normal" text-anchor="start" textLength="82.8" lengthAdjust="spacingAndGlyphs" shape-rendering="geometricPrecision" text-rendering="geometricPrecision">0.000014126</text>
<text x="571.0" y="58.7" font-size="15.5" fill="#089981" stroke="#089981" stroke-width="0.3" font-weight="normal" text-anchor="start" textLength="90.2" lengthAdjust="spacingAndGlyphs" shape-rendering="geometricPrecision" text-rendering="geometricPrecision">+0.000000135</text>
<text x="667.6" y="58.7" font-size="15.5" fill="#089981" stroke="#089981" stroke-width="0.3" font-weight="normal" text-anchor="start" textLength="56.3" lengthAdjust="spacingAndGlyphs" shape-rendering="geometricPrecision" text-rendering="geometricPrecision">(+0.96%)</text>
<text x="1437.0" y="96.9" font-size="15.5" fill="#131722" stroke="#131722" stroke-width="0.3" font-weight="normal" text-anchor="start" textLength="83.6" lengthAdjust="spacingAndGlyphs" shape-rendering="geometricPrecision" text-rendering="geometricPrecision">0.000016000</text>
<text x="1437.0" y="134.9" font-size="15.5" fill="#131722" stroke="#131722" stroke-width="0.3" font-weight="normal" text-anchor="start" textLength="83.6" lengthAdjust="spacingAndGlyphs" shape-rendering="geometricPrecision" text-rendering="geometricPrecision">0.000015500</text>
<text x="1437.0" y="172.9" font-size="15.5" fill="#131722" stroke="#131722" stroke-width="0.3" font-weight="normal" text-anchor="start" textLength="83.6" lengthAdjust="spacingAndGlyphs" shape-rendering="geometricPrecision" text-rendering="geometricPrecision">0.000015000</text>
<text x="1437.0" y="210.9" font-size="15.5" fill="#131722" stroke="#131722" stroke-width="0.3" font-weight="normal" text-anchor="start" textLength="83.6" lengthAdjust="spacingAndGlyphs" shape-rendering="geometricPrecision" text-rendering="geometricPrecision">0.000014500</text>
<text x="1437.0" y="248.9" font-size="15.5" fill="#131722" stroke="#131722" stroke-width="0.3" font-weight="normal" text-anchor="start" textLength="83.6" lengthAdjust="spacingAndGlyphs" shape-rendering="geometricPrecision" text-rendering="geometricPrecision">0.000014000</text>
<text x="1437.0" y="286.9" font-size="15.5" fill="#131722" stroke="#131722" stroke-width="0.3" font-weight="normal" text-anchor="start" textLength="83.6" lengthAdjust="spacingAndGlyphs" shape-rendering="geometricPrecision" text-rendering="geometricPrecision">0.000013500</text>
<text x="1437.0" y="325.0" font-size="15.5" fill="#131722" stroke="#131722" stroke-width="0.3" font-weight="normal" text-anchor="start" textLength="83.6" lengthAdjust="spacingAndGlyphs" shape-rendering="geometricPrecision" text-rendering="geometricPrecision">0.000013000</text>
<text x="1437.0" y="363.0" font-size="15.5" fill="#131722" stroke="#131722" stroke-width="0.3" font-weight="normal" text-anchor="start" textLength="83.6" lengthAdjust="spacingAndGlyphs" shape-rendering="geometricPrecision" text-rendering="geometricPrecision">0.000012500</text>
<rect x="1430.5" y="38.5" width="105" height="33" rx="4.5" fill="#fff" stroke="#efefef" stroke-width="1.6" shape-rendering="geometricPrecision"/>
<text x="1442.5" y="59.8" font-size="15.5" fill="#131722" stroke="#131722" stroke-width="0.3" font-weight="normal" text-anchor="start" textLength="26.0" lengthAdjust="spacingAndGlyphs" shape-rendering="geometricPrecision" text-rendering="geometricPrecision">USD</text>
<path d="M1427 224h52a2 2 0 0 1 2 2v17a2 2 0 0 1 -2 2h-52z" fill="#089981" shape-rendering="geometricPrecision"/>
<text x="1438.5" y="239.6" font-size="15.5" fill="#c5e8e2" stroke="#c5e8e2" stroke-width="0.3" font-weight="normal" text-anchor="start" textLength="36.0" lengthAdjust="spacingAndGlyphs" shape-rendering="geometricPrecision" text-rendering="geometricPrecision">10:34</text>
<text x="23.6" y="401.6" font-size="15.5" fill="#131722" stroke="#131722" stroke-width="0.3" font-weight="normal" text-anchor="start" textLength="18.2" lengthAdjust="spacingAndGlyphs" shape-rendering="geometricPrecision" text-rendering="geometricPrecision">RSI</text>
<text x="48.8" y="401.6" font-size="15.5" fill="#131722" stroke="#131722" stroke-width="0.3" font-weight="normal" text-anchor="start" textLength="24.1" lengthAdjust="spacingAndGlyphs" shape-rendering="geometricPrecision" text-rendering="geometricPrecision">(14,</text>
<text x="79.3" y="401.6" font-size="15.5" fill="#131722" stroke="#131722" stroke-width="0.3" font-weight="normal" text-anchor="start" textLength="38.4" lengthAdjust="spacingAndGlyphs" shape-rendering="geometricPrecision" text-rendering="geometricPrecision">close)</text>
<text x="127.4" y="401.6" font-size="15.5" fill="#7e57c2" stroke="#7e57c2" stroke-width="0.3" font-weight="normal" text-anchor="start" textLength="36.6" lengthAdjust="spacingAndGlyphs" shape-rendering="geometricPrecision" text-rendering="geometricPrecision">63.08</text>
<text x="173.7" y="401.6" font-size="15.5" fill="#fdd835" stroke="#fdd835" stroke-width="0.3" font-weight="normal" text-anchor="start" textLength="36.5" lengthAdjust="spacingAndGlyphs" shape-rendering="geometricPrecision" text-rendering="geometricPrecision">51.09</text>
<text x="1437.0" y="395.9" font-size="15.5" fill="#131722" stroke="#131722" stroke-width="0.3" font-weight="normal" text-anchor="start" textLength="37.0" lengthAdjust="spacingAndGlyphs" shape-rendering="geometricPrecision" text-rendering="geometricPrecision">80.00</text>
<text x="1437.0" y="442.0" font-size="15.5" fill="#131722" stroke="#131722" stroke-width="0.3" font-weight="normal" text-anchor="start" textLength="37.0" lengthAdjust="spacingAndGlyphs" shape-rendering="geometricPrecision" text-rendering="geometricPrecision">60.00</text>
<text x="1437.0" y="486.7" font-size="15.5" fill="#131722" stroke="#131722" stroke-width="0.3" font-weight="normal" text-anchor="start" textLength="37.0" lengthAdjust="spacingAndGlyphs" shape-rendering="geometricPrecision" text-rendering="geometricPrecision">40.00</text>
<text x="1437.0" y="531.5" font-size="15.5" fill="#131722" stroke="#131722" stroke-width="0.3" font-weight="normal" text-anchor="start" textLength="37.0" lengthAdjust="spacingAndGlyphs" shape-rendering="geometricPrecision" text-rendering="geometricPrecision">20.00</text>
<path d="M1427 420.5h52a2 2 0 0 1 2 2v16a2 2 0 0 1 -2 2h-52z" fill="#7e57c2" shape-rendering="geometricPrecision"/>
<text x="1437.0" y="435.8" font-size="15.5" fill="#fff" stroke="#fff" stroke-width="0.3" font-weight="normal" text-anchor="start" textLength="37.0" lengthAdjust="spacingAndGlyphs" shape-rendering="geometricPrecision" text-rendering="geometricPrecision">63.08</text>
<path d="M1427 447.5h52a2 2 0 0 1 2 2v16a2 2 0 0 1 -2 2h-52z" fill="#fdd835" shape-rendering="geometricPrecision"/>
<text x="1437.0" y="462.8" font-size="15.5" fill="#131722" stroke="#131722" stroke-width="0.3" font-weight="normal" text-anchor="start" textLength="37.0" lengthAdjust="spacingAndGlyphs" shape-rendering="geometricPrecision" text-rendering="geometricPrecision">51.09</text>
<text x="23.0" y="559.7" font-size="15.5" fill="#131722" stroke="#131722" stroke-width="0.3" font-weight="normal" text-anchor="start" textLength="37.0" lengthAdjust="spacingAndGlyphs" shape-rendering="geometricPrecision" text-rendering="geometricPrecision">MACD</text>
<text x="66.7" y="559.7" font-size="15.5" fill="#131722" stroke="#131722" stroke-width="0.3" font-weight="normal" text-anchor="start" textLength="24.4" lengthAdjust="spacingAndGlyphs" shape-rendering="geometricPrecision" text-rendering="geometricPrecision">(12,</text>
<text x="97.3" y="559.7" font-size="15.5" fill="#131722" stroke="#131722" stroke-width="0.3" font-weight="normal" text-anchor="start" textLength="18.5" lengthAdjust="spacingAndGlyphs" shape-rendering="geometricPrecision" text-rendering="geometricPrecision">26,</text>
<text x="122.8" y="559.7" font-size="15.5" fill="#131722" stroke="#131722" stroke-width="0.3" font-weight="normal" text-anchor="start" textLength="38.5" lengthAdjust="spacingAndGlyphs" shape-rendering="geometricPrecision" text-rendering="geometricPrecision">close)</text>
<text x="171.2" y="559.7" font-size="15.5" fill="#26a69a" stroke="#26a69a" stroke-width="0.3" font-weight="normal" text-anchor="start" textLength="83.8" lengthAdjust="spacingAndGlyphs" shape-rendering="geometricPrecision" text-rendering="geometricPrecision">0.000000044</text>
<text x="265.0" y="559.7" font-size="15.5" fill="#2962ff" stroke="#2962ff" stroke-width="0.3" font-weight="normal" text-anchor="start" textLength="83.8" lengthAdjust="spacingAndGlyphs" shape-rendering="geometricPrecision" text-rendering="geometricPrecision">0.000000052</text>
<text x="357.0" y="559.7" font-size="15.5" fill="#ff6d00" stroke="#ff6d00" stroke-width="0.3" font-weight="normal" text-anchor="start" textLength="83.8" lengthAdjust="spacingAndGlyphs" shape-rendering="geometricPrecision" text-rendering="geometricPrecision">0.000000007</text>
<text x="1437.0" y="546.2" font-size="15.5" fill="#131722" stroke="#131722" stroke-width="0.3" font-weight="normal" text-anchor="start" textLength="83.6" lengthAdjust="spacingAndGlyphs" shape-rendering="geometricPrecision" text-rendering="geometricPrecision">0.000000500</text>
<path d="M1427 582h99a2 2 0 0 1 2 2v16.5a2 2 0 0 1 -2 2h-99z" fill="#2962ff" shape-rendering="geometricPrecision"/>
<text x="1437.8" y="597.4" font-size="15.5" fill="#fff" stroke="#fff" stroke-width="0.3" font-weight="normal" text-anchor="start" textLength="83.6" lengthAdjust="spacingAndGlyphs" shape-rendering="geometricPrecision" text-rendering="geometricPrecision">0.000000052</text>
<path d="M1427 604h99a2 2 0 0 1 2 2v16.5a2 2 0 0 1 -2 2h-99z" fill="#26a69a" shape-rendering="geometricPrecision"/>
<text x="1437.8" y="619.4" font-size="15.5" fill="#fff" stroke="#fff" stroke-width="0.3" font-weight="normal" text-anchor="start" textLength="83.6" lengthAdjust="spacingAndGlyphs" shape-rendering="geometricPrecision" text-rendering="geometricPrecision">0.000000044</text>
<path d="M1427 625.3h99a2 2 0 0 1 2 2v16.5a2 2 0 0 1 -2 2h-99z" fill="#ff6d00" shape-rendering="geometricPrecision"/>
<text x="1437.8" y="640.7" font-size="15.5" fill="#fff" stroke="#fff" stroke-width="0.3" font-weight="normal" text-anchor="start" textLength="83.6" lengthAdjust="spacingAndGlyphs" shape-rendering="geometricPrecision" text-rendering="geometricPrecision">0.000000007</text>
<text x="55.5" y="716.0" font-size="15.5" fill="#131722" stroke="#131722" stroke-width="0.3" font-weight="normal" text-anchor="start" textLength="15.0" lengthAdjust="spacingAndGlyphs" shape-rendering="geometricPrecision" text-rendering="geometricPrecision">22</text>
<text x="291.5" y="716.0" font-size="15.5" fill="#131722" stroke="#131722" stroke-width="0.3" font-weight="normal" text-anchor="start" textLength="15.0" lengthAdjust="spacingAndGlyphs" shape-rendering="geometricPrecision" text-rendering="geometricPrecision">23</text>
<text x="527.5" y="716.0" font-size="15.5" fill="#131722" stroke="#131722" stroke-width="0.3" font-weight="normal" text-anchor="start" textLength="15.0" lengthAdjust="spacingAndGlyphs" shape-rendering="geometricPrecision" text-rendering="geometricPrecision">24</text>
<text x="764.5" y="716.0" font-size="15.5" fill="#131722" stroke="#131722" stroke-width="0.3" font-weight="normal" text-anchor="start" textLength="15.0" lengthAdjust="spacingAndGlyphs" shape-rendering="geometricPrecision" text-rendering="geometricPrecision">25</text>
<text x="999.7" y="716.0" font-size="15.5" fill="#131722" stroke="#131722" stroke-width="0.3" font-weight="bold" text-anchor="start" textLength="16.6" lengthAdjust="spacingAndGlyphs" shape-rendering="geometricPrecision" text-rendering="geometricPrecision">26</text>
<text x="1236.5" y="716.0" font-size="15.5" fill="#131722" stroke="#131722" stroke-width="0.3" font-weight="normal" text-anchor="start" textLength="15.0" lengthAdjust="spacingAndGlyphs" shape-rendering="geometricPrecision" text-rendering="geometricPrecision">27</text>
<g fill="#111" shape-rendering="geometricPrecision"><path d="M13.1 743.7H22.75V755.9H17.9V748.5H13.1Z"/><circle cx="26.9" cy="746.3" r="2.7"/><path d="M32.3 743.7H37.4L32.4 755.9H26.9Z"/></g>
<text x="41.8" y="755.9" font-size="15.6" fill="#1a1a1a" stroke="#1a1a1a" stroke-width="0.3" font-weight="normal" text-anchor="start" textLength="88.0" lengthAdjust="spacingAndGlyphs" shape-rendering="geometricPrecision" text-rendering="geometricPrecision">TradingView</text>
</g>
</svg>
</body></html>
